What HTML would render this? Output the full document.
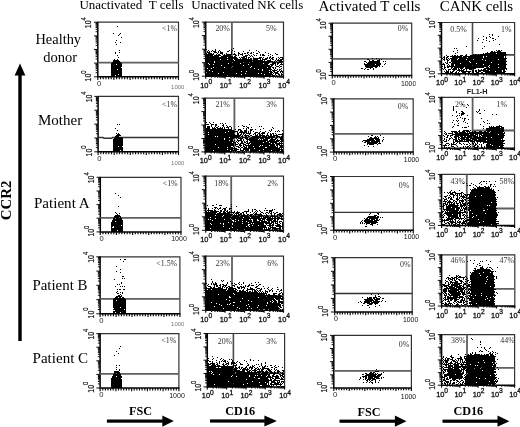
<!DOCTYPE html>
<html><head><meta charset="utf-8"><style>
html,body{margin:0;padding:0;background:#fff;}
svg{display:block;font-family:"Liberation Serif",serif;}
</style></head><body>
<svg width="520" height="427" viewBox="0 0 520 427">
<defs><filter id="b" x="0" y="0" width="1" height="1"><feGaussianBlur stdDeviation="0.33"/></filter></defs>
<rect width="520" height="427" fill="#fff"/>
<g filter="url(#b)">
<rect width="520" height="427" fill="#fff"/>
<text x="79.4" y="9.0" font-size="13" text-anchor="start" fill="#000">Unactivated&#160;&#160;T cells</text><text x="191.3" y="9.0" font-size="13" text-anchor="start" fill="#000">Unactivated NK cells</text><text x="318.5" y="10.8" font-size="15" text-anchor="start" fill="#000">Activated T cells</text><text x="439.7" y="11.1" font-size="14.95" text-anchor="start" fill="#000">CANK cells</text><text x="58.25" y="44.4" font-size="14.4" text-anchor="middle" fill="#000">Healthy</text><text x="60.2" y="62.3" font-size="14.5" text-anchor="middle" fill="#000">donor</text><text x="60.1" y="125.3" font-size="15.0" text-anchor="middle" fill="#000">Mother</text><text x="61.8" y="208.1" font-size="15.1" text-anchor="middle" fill="#000">Patient A</text><text x="59.95" y="289.5" font-size="14.9" text-anchor="middle" fill="#000">Patient B</text><text x="60.35" y="363.0" font-size="15.05" text-anchor="middle" fill="#000">Patient C</text><text x="10.7" y="200.35" font-size="14.9" text-anchor="middle" font-weight="bold" fill="#000" transform="rotate(-90 10.7 200.35)">CCR2</text><rect x="18.3" y="74" width="3.4" height="267" fill="#000"/><polygon points="20,63.5 14.6,75.5 25.4,75.5" fill="#000"/><rect x="106.9" y="419.5" width="55.900000000000006" height="3.2" fill="#000"/><polygon points="162.3,415.5 173.8,421.1 162.3,426.70000000000005" fill="#000"/><rect x="210.0" y="419.4" width="54.89999999999998" height="3.2" fill="#000"/><polygon points="264.4,415.4 276.9,421.0 264.4,426.6" fill="#000"/><rect x="339.5" y="419.59999999999997" width="55.89999999999998" height="3.2" fill="#000"/><polygon points="394.9,415.59999999999997 406.5,421.2 394.9,426.8" fill="#000"/><rect x="442.5" y="419.59999999999997" width="55.5" height="3.2" fill="#000"/><polygon points="497.5,415.59999999999997 509.3,421.2 497.5,426.8" fill="#000"/><text x="140.5" y="415.4" font-size="12.2" text-anchor="middle" font-weight="bold" fill="#000">FSC</text><text x="240.2" y="415.3" font-size="12.2" text-anchor="middle" font-weight="bold" fill="#000">CD16</text><text x="369.1" y="415.6" font-size="12.2" text-anchor="middle" font-weight="bold" fill="#000">FSC</text><text x="468.3" y="415.2" font-size="12.2" text-anchor="middle" font-weight="bold" fill="#000">CD16</text><text x="477.15" y="93.5" font-size="7.3" text-anchor="middle" font-weight="bold" fill="#222" font-family="Liberation Sans">FL1-H</text><path d="M97.8 22.2H178.5V76.8" fill="none" stroke="#333" stroke-width="1.2"/><path d="M97.8 21.7V76.8H179.0" fill="none" stroke="#000" stroke-width="1.5"/><path d="M94.0 76.8h3.8M95.6 72.7h2.2M95.6 70.3h2.2M95.6 68.6h2.2M95.6 67.3h2.2M95.6 66.2h2.2M95.6 65.3h2.2M95.6 64.5h2.2M95.6 63.8h2.2M94.0 63.1h3.8M95.6 59.0h2.2M95.6 56.6h2.2M95.6 54.9h2.2M95.6 53.6h2.2M95.6 52.5h2.2M95.6 51.6h2.2M95.6 50.8h2.2M95.6 50.1h2.2M94.0 49.5h3.8M95.6 45.4h2.2M95.6 43.0h2.2M95.6 41.3h2.2M95.6 40.0h2.2M95.6 38.9h2.2M95.6 38.0h2.2M95.6 37.2h2.2M95.6 36.5h2.2M94.0 35.9h3.8M95.6 31.7h2.2M95.6 29.3h2.2M95.6 27.6h2.2M95.6 26.3h2.2M95.6 25.2h2.2M95.6 24.3h2.2M95.6 23.5h2.2M95.6 22.8h2.2M94.0 22.2h3.8" stroke="#111" stroke-width="1"/><path d="M97.8 76.8v3.2M100.5 76.8v2.4M103.2 76.8v2.4M105.9 76.8v2.4M108.6 76.8v2.4M111.2 76.8v2.4M113.9 76.8v3.2M116.6 76.8v2.4M119.3 76.8v2.4M122.0 76.8v2.4M124.7 76.8v2.4M127.4 76.8v2.4M130.1 76.8v3.2M132.8 76.8v2.4M135.5 76.8v2.4M138.2 76.8v2.4M140.8 76.8v2.4M143.5 76.8v2.4M146.2 76.8v3.2M148.9 76.8v2.4M151.6 76.8v2.4M154.3 76.8v2.4M157.0 76.8v2.4M159.7 76.8v2.4M162.4 76.8v3.2M165.1 76.8v2.4M167.7 76.8v2.4M170.4 76.8v2.4M173.1 76.8v2.4M175.8 76.8v2.4M178.5 76.8v3.2" stroke="#111" stroke-width="1.2"/><text transform="translate(91.39999999999999 22.7) rotate(-90) scale(0.8 1)" font-family="Liberation Sans" font-size="8.6" text-anchor="middle" fill="#111" stroke="#111" stroke-width="0.2">10<tspan dy="-5.33" font-size="7.31">4</tspan></text><text transform="translate(91.39999999999999 76.0) rotate(-90) scale(0.8 1)" font-family="Liberation Sans" font-size="8.6" text-anchor="middle" fill="#111" stroke="#111" stroke-width="0.2">10<tspan dy="-5.33" font-size="7.31">0</tspan></text><text x="99.0" y="86.1" font-size="7.6" text-anchor="middle" fill="#222" font-family="Liberation Sans">0</text><text x="177.75" y="89.0" font-size="6.0" text-anchor="middle" fill="#777" font-family="Liberation Sans">1000</text><line x1="97.8" y1="62.7" x2="178.5" y2="62.7" stroke="#5e5e5e" stroke-width="1.8"/><text x="162.0" y="31.0" font-size="7.9" text-anchor="start" fill="#333">&lt;1%</text><path d="M98.1 96.4H178.5V151.8" fill="none" stroke="#333" stroke-width="1.2"/><path d="M98.1 95.9V151.8H179.0" fill="none" stroke="#000" stroke-width="1.5"/><path d="M94.3 151.8h3.8M95.9 147.6h2.2M95.9 145.2h2.2M95.9 143.5h2.2M95.9 142.1h2.2M95.9 141.0h2.2M95.9 140.1h2.2M95.9 139.3h2.2M95.9 138.6h2.2M94.3 138.0h3.8M95.9 133.8h2.2M95.9 131.3h2.2M95.9 129.6h2.2M95.9 128.3h2.2M95.9 127.2h2.2M95.9 126.2h2.2M95.9 125.4h2.2M95.9 124.7h2.2M94.3 124.1h3.8M95.9 119.9h2.2M95.9 117.5h2.2M95.9 115.8h2.2M95.9 114.4h2.2M95.9 113.3h2.2M95.9 112.4h2.2M95.9 111.6h2.2M95.9 110.9h2.2M94.3 110.2h3.8M95.9 106.1h2.2M95.9 103.6h2.2M95.9 101.9h2.2M95.9 100.6h2.2M95.9 99.5h2.2M95.9 98.5h2.2M95.9 97.7h2.2M95.9 97.0h2.2M94.3 96.4h3.8" stroke="#111" stroke-width="1"/><path d="M98.1 151.8v3.2M100.8 151.8v2.4M103.5 151.8v2.4M106.1 151.8v2.4M108.8 151.8v2.4M111.5 151.8v2.4M114.2 151.8v3.2M116.9 151.8v2.4M119.5 151.8v2.4M122.2 151.8v2.4M124.9 151.8v2.4M127.6 151.8v2.4M130.3 151.8v3.2M132.9 151.8v2.4M135.6 151.8v2.4M138.3 151.8v2.4M141.0 151.8v2.4M143.7 151.8v2.4M146.3 151.8v3.2M149.0 151.8v2.4M151.7 151.8v2.4M154.4 151.8v2.4M157.1 151.8v2.4M159.7 151.8v2.4M162.4 151.8v3.2M165.1 151.8v2.4M167.8 151.8v2.4M170.5 151.8v2.4M173.1 151.8v2.4M175.8 151.8v2.4M178.5 151.8v3.2" stroke="#111" stroke-width="1.2"/><text transform="translate(91.69999999999999 96.9) rotate(-90) scale(0.8 1)" font-family="Liberation Sans" font-size="8.6" text-anchor="middle" fill="#111" stroke="#111" stroke-width="0.2">10<tspan dy="-5.33" font-size="7.31">4</tspan></text><text transform="translate(91.69999999999999 151.0) rotate(-90) scale(0.8 1)" font-family="Liberation Sans" font-size="8.6" text-anchor="middle" fill="#111" stroke="#111" stroke-width="0.2">10<tspan dy="-5.33" font-size="7.31">0</tspan></text><text x="99.3" y="161.10000000000002" font-size="7.6" text-anchor="middle" fill="#222" font-family="Liberation Sans">0</text><text x="177.75" y="165.0" font-size="6.0" text-anchor="middle" fill="#777" font-family="Liberation Sans">1000</text><path d="M98.1 137.4H103L104 138.3H111.5L112.5 137.6H178.5" fill="none" stroke="#333" stroke-width="1.5"/><text x="162.1" y="106.7" font-size="7.9" text-anchor="start" fill="#333">&lt;1%</text><path d="M100.3 177.3H181.0V231.9" fill="none" stroke="#333" stroke-width="1.2"/><path d="M100.3 176.8V231.9H181.5" fill="none" stroke="#000" stroke-width="1.5"/><path d="M96.5 231.9h3.8M98.1 227.8h2.2M98.1 225.4h2.2M98.1 223.7h2.2M98.1 222.4h2.2M98.1 221.3h2.2M98.1 220.4h2.2M98.1 219.6h2.2M98.1 218.9h2.2M96.5 218.2h3.8M98.1 214.1h2.2M98.1 211.7h2.2M98.1 210.0h2.2M98.1 208.7h2.2M98.1 207.6h2.2M98.1 206.7h2.2M98.1 205.9h2.2M98.1 205.2h2.2M96.5 204.6h3.8M98.1 200.5h2.2M98.1 198.1h2.2M98.1 196.4h2.2M98.1 195.1h2.2M98.1 194.0h2.2M98.1 193.1h2.2M98.1 192.3h2.2M98.1 191.6h2.2M96.5 191.0h3.8M98.1 186.8h2.2M98.1 184.4h2.2M98.1 182.7h2.2M98.1 181.4h2.2M98.1 180.3h2.2M98.1 179.4h2.2M98.1 178.6h2.2M98.1 177.9h2.2M96.5 177.3h3.8" stroke="#111" stroke-width="1"/><path d="M100.3 231.9v3.2M103.0 231.9v2.4M105.7 231.9v2.4M108.4 231.9v2.4M111.1 231.9v2.4M113.8 231.9v2.4M116.4 231.9v3.2M119.1 231.9v2.4M121.8 231.9v2.4M124.5 231.9v2.4M127.2 231.9v2.4M129.9 231.9v2.4M132.6 231.9v3.2M135.3 231.9v2.4M138.0 231.9v2.4M140.7 231.9v2.4M143.3 231.9v2.4M146.0 231.9v2.4M148.7 231.9v3.2M151.4 231.9v2.4M154.1 231.9v2.4M156.8 231.9v2.4M159.5 231.9v2.4M162.2 231.9v2.4M164.9 231.9v3.2M167.6 231.9v2.4M170.2 231.9v2.4M172.9 231.9v2.4M175.6 231.9v2.4M178.3 231.9v2.4M181.0 231.9v3.2" stroke="#111" stroke-width="1.2"/><text transform="translate(93.89999999999999 177.8) rotate(-90) scale(0.8 1)" font-family="Liberation Sans" font-size="8.6" text-anchor="middle" fill="#111" stroke="#111" stroke-width="0.2">10<tspan dy="-5.33" font-size="7.31">4</tspan></text><text transform="translate(93.89999999999999 231.1) rotate(-90) scale(0.8 1)" font-family="Liberation Sans" font-size="8.6" text-anchor="middle" fill="#111" stroke="#111" stroke-width="0.2">10<tspan dy="-5.33" font-size="7.31">0</tspan></text><text x="101.5" y="241.20000000000002" font-size="7.6" text-anchor="middle" fill="#222" font-family="Liberation Sans">0</text><text x="179.0" y="241.3" font-size="7.0" text-anchor="middle" fill="#111" font-family="Liberation Sans">1000</text><line x1="100.3" y1="217.9" x2="181.0" y2="217.9" stroke="#5e5e5e" stroke-width="1.8"/><text x="162.7" y="186.0" font-size="7.9" text-anchor="start" fill="#333">&lt;1%</text><path d="M100.1 256.8H179.9V313.8" fill="none" stroke="#333" stroke-width="1.2"/><path d="M100.1 256.3V313.8H180.4" fill="none" stroke="#000" stroke-width="1.5"/><path d="M96.3 313.8h3.8M97.9 309.5h2.2M97.9 307.0h2.2M97.9 305.2h2.2M97.9 303.8h2.2M97.9 302.7h2.2M97.9 301.8h2.2M97.9 300.9h2.2M97.9 300.2h2.2M96.3 299.6h3.8M97.9 295.3h2.2M97.9 292.8h2.2M97.9 291.0h2.2M97.9 289.6h2.2M97.9 288.5h2.2M97.9 287.5h2.2M97.9 286.7h2.2M97.9 286.0h2.2M96.3 285.3h3.8M97.9 281.0h2.2M97.9 278.5h2.2M97.9 276.7h2.2M97.9 275.3h2.2M97.9 274.2h2.2M97.9 273.3h2.2M97.9 272.4h2.2M97.9 271.7h2.2M96.3 271.1h3.8M97.9 266.8h2.2M97.9 264.3h2.2M97.9 262.5h2.2M97.9 261.1h2.2M97.9 260.0h2.2M97.9 259.0h2.2M97.9 258.2h2.2M97.9 257.5h2.2M96.3 256.8h3.8" stroke="#111" stroke-width="1"/><path d="M100.1 313.8v3.2M102.8 313.8v2.4M105.4 313.8v2.4M108.1 313.8v2.4M110.7 313.8v2.4M113.4 313.8v2.4M116.1 313.8v3.2M118.7 313.8v2.4M121.4 313.8v2.4M124.0 313.8v2.4M126.7 313.8v2.4M129.4 313.8v2.4M132.0 313.8v3.2M134.7 313.8v2.4M137.3 313.8v2.4M140.0 313.8v2.4M142.7 313.8v2.4M145.3 313.8v2.4M148.0 313.8v3.2M150.6 313.8v2.4M153.3 313.8v2.4M156.0 313.8v2.4M158.6 313.8v2.4M161.3 313.8v2.4M163.9 313.8v3.2M166.6 313.8v2.4M169.3 313.8v2.4M171.9 313.8v2.4M174.6 313.8v2.4M177.2 313.8v2.4M179.9 313.8v3.2" stroke="#111" stroke-width="1.2"/><text transform="translate(93.69999999999999 257.3) rotate(-90) scale(0.8 1)" font-family="Liberation Sans" font-size="8.6" text-anchor="middle" fill="#111" stroke="#111" stroke-width="0.2">10<tspan dy="-5.33" font-size="7.31">4</tspan></text><text transform="translate(93.69999999999999 313.0) rotate(-90) scale(0.8 1)" font-family="Liberation Sans" font-size="8.6" text-anchor="middle" fill="#111" stroke="#111" stroke-width="0.2">10<tspan dy="-5.33" font-size="7.31">0</tspan></text><text x="101.3" y="323.1" font-size="7.6" text-anchor="middle" fill="#222" font-family="Liberation Sans">0</text><text x="177.75" y="326.0" font-size="6.0" text-anchor="middle" fill="#777" font-family="Liberation Sans">1000</text><line x1="100.1" y1="298.9" x2="179.9" y2="298.9" stroke="#5e5e5e" stroke-width="1.8"/><text x="156.3" y="266.0" font-size="7.9" text-anchor="start" fill="#333">&lt;1.5%</text><path d="M100.1 333.6H178.9V388.0" fill="none" stroke="#333" stroke-width="1.2"/><path d="M100.1 333.1V388.0H179.4" fill="none" stroke="#000" stroke-width="1.5"/><path d="M96.3 388.0h3.8M97.9 383.9h2.2M97.9 381.5h2.2M97.9 379.8h2.2M97.9 378.5h2.2M97.9 377.4h2.2M97.9 376.5h2.2M97.9 375.7h2.2M97.9 375.0h2.2M96.3 374.4h3.8M97.9 370.3h2.2M97.9 367.9h2.2M97.9 366.2h2.2M97.9 364.9h2.2M97.9 363.8h2.2M97.9 362.9h2.2M97.9 362.1h2.2M97.9 361.4h2.2M96.3 360.8h3.8M97.9 356.7h2.2M97.9 354.3h2.2M97.9 352.6h2.2M97.9 351.3h2.2M97.9 350.2h2.2M97.9 349.3h2.2M97.9 348.5h2.2M97.9 347.8h2.2M96.3 347.2h3.8M97.9 343.1h2.2M97.9 340.7h2.2M97.9 339.0h2.2M97.9 337.7h2.2M97.9 336.6h2.2M97.9 335.7h2.2M97.9 334.9h2.2M97.9 334.2h2.2M96.3 333.6h3.8" stroke="#111" stroke-width="1"/><path d="M100.1 388.0v3.2M102.7 388.0v2.4M105.4 388.0v2.4M108.0 388.0v2.4M110.6 388.0v2.4M113.2 388.0v2.4M115.9 388.0v3.2M118.5 388.0v2.4M121.1 388.0v2.4M123.7 388.0v2.4M126.4 388.0v2.4M129.0 388.0v2.4M131.6 388.0v3.2M134.2 388.0v2.4M136.9 388.0v2.4M139.5 388.0v2.4M142.1 388.0v2.4M144.8 388.0v2.4M147.4 388.0v3.2M150.0 388.0v2.4M152.6 388.0v2.4M155.3 388.0v2.4M157.9 388.0v2.4M160.5 388.0v2.4M163.1 388.0v3.2M165.8 388.0v2.4M168.4 388.0v2.4M171.0 388.0v2.4M173.6 388.0v2.4M176.3 388.0v2.4M178.9 388.0v3.2" stroke="#111" stroke-width="1.2"/><text transform="translate(93.69999999999999 334.1) rotate(-90) scale(0.8 1)" font-family="Liberation Sans" font-size="8.6" text-anchor="middle" fill="#111" stroke="#111" stroke-width="0.2">10<tspan dy="-5.33" font-size="7.31">4</tspan></text><text transform="translate(93.69999999999999 387.2) rotate(-90) scale(0.8 1)" font-family="Liberation Sans" font-size="8.6" text-anchor="middle" fill="#111" stroke="#111" stroke-width="0.2">10<tspan dy="-5.33" font-size="7.31">0</tspan></text><text x="101.3" y="397.3" font-size="7.6" text-anchor="middle" fill="#222" font-family="Liberation Sans">0</text><text x="177.0" y="398.2" font-size="7.0" text-anchor="middle" fill="#111" font-family="Liberation Sans">1000</text><line x1="100.1" y1="373.9" x2="178.9" y2="373.9" stroke="#5e5e5e" stroke-width="1.8"/><text x="161.3" y="342.5" font-size="7.9" text-anchor="start" fill="#333">&lt;1%</text><path d="M205.7 22.1H283.5V76.2" fill="none" stroke="#333" stroke-width="1.2"/><path d="M205.7 21.6V76.2H284.0" fill="none" stroke="#000" stroke-width="1.5"/><path d="M201.9 76.2h3.8M203.5 72.1h2.2M203.5 69.7h2.2M203.5 68.1h2.2M203.5 66.7h2.2M203.5 65.7h2.2M203.5 64.8h2.2M203.5 64.0h2.2M203.5 63.3h2.2M201.9 62.7h3.8M203.5 58.6h2.2M203.5 56.2h2.2M203.5 54.5h2.2M203.5 53.2h2.2M203.5 52.2h2.2M203.5 51.2h2.2M203.5 50.5h2.2M203.5 49.8h2.2M201.9 49.2h3.8M203.5 45.1h2.2M203.5 42.7h2.2M203.5 41.0h2.2M203.5 39.7h2.2M203.5 38.6h2.2M203.5 37.7h2.2M203.5 36.9h2.2M203.5 36.2h2.2M201.9 35.6h3.8M203.5 31.6h2.2M203.5 29.2h2.2M203.5 27.5h2.2M203.5 26.2h2.2M203.5 25.1h2.2M203.5 24.2h2.2M203.5 23.4h2.2M203.5 22.7h2.2M201.9 22.1h3.8" stroke="#111" stroke-width="1"/><path d="M205.7 76.2v2.5M211.6 76.2v1.6M215.0 76.2v1.6M217.4 76.2v1.6M219.3 76.2v1.6M220.8 76.2v1.6M222.1 76.2v1.6M223.3 76.2v1.6M224.3 76.2v1.6M225.1 76.2v2.5M231.0 76.2v1.6M234.4 76.2v1.6M236.9 76.2v1.6M238.7 76.2v1.6M240.3 76.2v1.6M241.6 76.2v1.6M242.7 76.2v1.6M243.7 76.2v1.6M244.6 76.2v2.5M250.5 76.2v1.6M253.9 76.2v1.6M256.3 76.2v1.6M258.2 76.2v1.6M259.7 76.2v1.6M261.0 76.2v1.6M262.2 76.2v1.6M263.2 76.2v1.6M264.1 76.2v2.5M269.9 76.2v1.6M273.3 76.2v1.6M275.8 76.2v1.6M277.6 76.2v1.6M279.2 76.2v1.6M280.5 76.2v1.6M281.6 76.2v1.6M282.6 76.2v1.6M283.5 76.2v2.5" stroke="#111" stroke-width="1.2"/><text transform="translate(199.29999999999998 22.6) rotate(-90) scale(0.8 1)" font-family="Liberation Sans" font-size="8.6" text-anchor="middle" fill="#111" stroke="#111" stroke-width="0.2">10<tspan dy="-5.33" font-size="7.31">4</tspan></text><text transform="translate(199.29999999999998 75.4) rotate(-90) scale(0.8 1)" font-family="Liberation Sans" font-size="8.6" text-anchor="middle" fill="#111" stroke="#111" stroke-width="0.2">10<tspan dy="-5.33" font-size="7.31">0</tspan></text><text x="206.20" y="87.7" font-family="Liberation Sans" font-size="7.4" text-anchor="middle" fill="#111" stroke="#111" stroke-width="0.3">10<tspan dy="-3.70" font-size="6.66">0</tspan></text><text x="225.65" y="87.7" font-family="Liberation Sans" font-size="7.4" text-anchor="middle" fill="#111" stroke="#111" stroke-width="0.3">10<tspan dy="-3.70" font-size="6.66">1</tspan></text><text x="245.10" y="87.7" font-family="Liberation Sans" font-size="7.4" text-anchor="middle" fill="#111" stroke="#111" stroke-width="0.3">10<tspan dy="-3.70" font-size="6.66">2</tspan></text><text x="264.55" y="87.7" font-family="Liberation Sans" font-size="7.4" text-anchor="middle" fill="#111" stroke="#111" stroke-width="0.3">10<tspan dy="-3.70" font-size="6.66">3</tspan></text><text x="284.00" y="87.7" font-family="Liberation Sans" font-size="7.4" text-anchor="middle" fill="#111" stroke="#111" stroke-width="0.3">10<tspan dy="-3.70" font-size="6.66">4</tspan></text><line x1="231.9" y1="22.1" x2="231.9" y2="76.2" stroke="#5e5e5e" stroke-width="1.8"/><line x1="231.9" y1="62.2" x2="283.5" y2="62.2" stroke="#5e5e5e" stroke-width="1.8"/><text x="215.4" y="31.2" font-size="7.9" text-anchor="start" fill="#333">20%</text><text x="266.0" y="31.2" font-size="7.9" text-anchor="start" fill="#333">5%</text><path d="M205.2 98.2H283.5V151.9" fill="none" stroke="#333" stroke-width="1.2"/><path d="M205.2 97.7V151.9H284.0" fill="none" stroke="#000" stroke-width="1.5"/><path d="M201.4 151.9h3.8M203.0 147.9h2.2M203.0 145.5h2.2M203.0 143.8h2.2M203.0 142.5h2.2M203.0 141.5h2.2M203.0 140.6h2.2M203.0 139.8h2.2M203.0 139.1h2.2M201.4 138.5h3.8M203.0 134.4h2.2M203.0 132.1h2.2M203.0 130.4h2.2M203.0 129.1h2.2M203.0 128.0h2.2M203.0 127.1h2.2M203.0 126.4h2.2M203.0 125.7h2.2M201.4 125.1h3.8M203.0 121.0h2.2M203.0 118.6h2.2M203.0 117.0h2.2M203.0 115.7h2.2M203.0 114.6h2.2M203.0 113.7h2.2M203.0 112.9h2.2M203.0 112.2h2.2M201.4 111.6h3.8M203.0 107.6h2.2M203.0 105.2h2.2M203.0 103.5h2.2M203.0 102.2h2.2M203.0 101.2h2.2M203.0 100.3h2.2M203.0 99.5h2.2M203.0 98.8h2.2M201.4 98.2h3.8" stroke="#111" stroke-width="1"/><path d="M205.2 151.9v2.5M211.1 151.9v1.6M214.5 151.9v1.6M217.0 151.9v1.6M218.9 151.9v1.6M220.4 151.9v1.6M221.7 151.9v1.6M222.9 151.9v1.6M223.9 151.9v1.6M224.8 151.9v2.5M230.7 151.9v1.6M234.1 151.9v1.6M236.6 151.9v1.6M238.5 151.9v1.6M240.0 151.9v1.6M241.3 151.9v1.6M242.5 151.9v1.6M243.5 151.9v1.6M244.3 151.9v2.5M250.2 151.9v1.6M253.7 151.9v1.6M256.1 151.9v1.6M258.0 151.9v1.6M259.6 151.9v1.6M260.9 151.9v1.6M262.0 151.9v1.6M263.0 151.9v1.6M263.9 151.9v2.5M269.8 151.9v1.6M273.3 151.9v1.6M275.7 151.9v1.6M277.6 151.9v1.6M279.2 151.9v1.6M280.5 151.9v1.6M281.6 151.9v1.6M282.6 151.9v1.6M283.5 151.9v2.5" stroke="#111" stroke-width="1.2"/><text transform="translate(198.79999999999998 98.7) rotate(-90) scale(0.8 1)" font-family="Liberation Sans" font-size="8.6" text-anchor="middle" fill="#111" stroke="#111" stroke-width="0.2">10<tspan dy="-5.33" font-size="7.31">4</tspan></text><text transform="translate(198.79999999999998 151.1) rotate(-90) scale(0.8 1)" font-family="Liberation Sans" font-size="8.6" text-anchor="middle" fill="#111" stroke="#111" stroke-width="0.2">10<tspan dy="-5.33" font-size="7.31">0</tspan></text><text x="205.70" y="163.4" font-family="Liberation Sans" font-size="7.4" text-anchor="middle" fill="#111" stroke="#111" stroke-width="0.3">10<tspan dy="-3.70" font-size="6.66">0</tspan></text><text x="225.27" y="163.4" font-family="Liberation Sans" font-size="7.4" text-anchor="middle" fill="#111" stroke="#111" stroke-width="0.3">10<tspan dy="-3.70" font-size="6.66">1</tspan></text><text x="244.85" y="163.4" font-family="Liberation Sans" font-size="7.4" text-anchor="middle" fill="#111" stroke="#111" stroke-width="0.3">10<tspan dy="-3.70" font-size="6.66">2</tspan></text><text x="264.43" y="163.4" font-family="Liberation Sans" font-size="7.4" text-anchor="middle" fill="#111" stroke="#111" stroke-width="0.3">10<tspan dy="-3.70" font-size="6.66">3</tspan></text><text x="284.00" y="163.4" font-family="Liberation Sans" font-size="7.4" text-anchor="middle" fill="#111" stroke="#111" stroke-width="0.3">10<tspan dy="-3.70" font-size="6.66">4</tspan></text><line x1="234.4" y1="98.2" x2="234.4" y2="151.9" stroke="#5e5e5e" stroke-width="1.8"/><line x1="234.4" y1="137.3" x2="283.5" y2="137.3" stroke="#5e5e5e" stroke-width="1.8"/><text x="215.4" y="107.0" font-size="7.9" text-anchor="start" fill="#333">21%</text><text x="266.2" y="107.0" font-size="7.9" text-anchor="start" fill="#333">3%</text><path d="M205.7 176.1H283.5V230.3" fill="none" stroke="#333" stroke-width="1.2"/><path d="M205.7 175.6V230.3H284.0" fill="none" stroke="#000" stroke-width="1.5"/><path d="M201.9 230.3h3.8M203.5 226.2h2.2M203.5 223.8h2.2M203.5 222.1h2.2M203.5 220.8h2.2M203.5 219.8h2.2M203.5 218.8h2.2M203.5 218.1h2.2M203.5 217.4h2.2M201.9 216.8h3.8M203.5 212.7h2.2M203.5 210.3h2.2M203.5 208.6h2.2M203.5 207.3h2.2M203.5 206.2h2.2M203.5 205.3h2.2M203.5 204.5h2.2M203.5 203.8h2.2M201.9 203.2h3.8M203.5 199.1h2.2M203.5 196.7h2.2M203.5 195.0h2.2M203.5 193.7h2.2M203.5 192.7h2.2M203.5 191.7h2.2M203.5 191.0h2.2M203.5 190.3h2.2M201.9 189.7h3.8M203.5 185.6h2.2M203.5 183.2h2.2M203.5 181.5h2.2M203.5 180.2h2.2M203.5 179.1h2.2M203.5 178.2h2.2M203.5 177.4h2.2M203.5 176.7h2.2M201.9 176.1h3.8" stroke="#111" stroke-width="1"/><path d="M205.7 230.3v2.5M211.6 230.3v1.6M215.0 230.3v1.6M217.4 230.3v1.6M219.3 230.3v1.6M220.8 230.3v1.6M222.1 230.3v1.6M223.3 230.3v1.6M224.3 230.3v1.6M225.1 230.3v2.5M231.0 230.3v1.6M234.4 230.3v1.6M236.9 230.3v1.6M238.7 230.3v1.6M240.3 230.3v1.6M241.6 230.3v1.6M242.7 230.3v1.6M243.7 230.3v1.6M244.6 230.3v2.5M250.5 230.3v1.6M253.9 230.3v1.6M256.3 230.3v1.6M258.2 230.3v1.6M259.7 230.3v1.6M261.0 230.3v1.6M262.2 230.3v1.6M263.2 230.3v1.6M264.1 230.3v2.5M269.9 230.3v1.6M273.3 230.3v1.6M275.8 230.3v1.6M277.6 230.3v1.6M279.2 230.3v1.6M280.5 230.3v1.6M281.6 230.3v1.6M282.6 230.3v1.6M283.5 230.3v2.5" stroke="#111" stroke-width="1.2"/><text transform="translate(199.29999999999998 176.6) rotate(-90) scale(0.8 1)" font-family="Liberation Sans" font-size="8.6" text-anchor="middle" fill="#111" stroke="#111" stroke-width="0.2">10<tspan dy="-5.33" font-size="7.31">4</tspan></text><text transform="translate(199.29999999999998 229.5) rotate(-90) scale(0.8 1)" font-family="Liberation Sans" font-size="8.6" text-anchor="middle" fill="#111" stroke="#111" stroke-width="0.2">10<tspan dy="-5.33" font-size="7.31">0</tspan></text><text x="206.20" y="241.8" font-family="Liberation Sans" font-size="7.4" text-anchor="middle" fill="#111" stroke="#111" stroke-width="0.3">10<tspan dy="-3.70" font-size="6.66">0</tspan></text><text x="225.65" y="241.8" font-family="Liberation Sans" font-size="7.4" text-anchor="middle" fill="#111" stroke="#111" stroke-width="0.3">10<tspan dy="-3.70" font-size="6.66">1</tspan></text><text x="245.10" y="241.8" font-family="Liberation Sans" font-size="7.4" text-anchor="middle" fill="#111" stroke="#111" stroke-width="0.3">10<tspan dy="-3.70" font-size="6.66">2</tspan></text><text x="264.55" y="241.8" font-family="Liberation Sans" font-size="7.4" text-anchor="middle" fill="#111" stroke="#111" stroke-width="0.3">10<tspan dy="-3.70" font-size="6.66">3</tspan></text><text x="284.00" y="241.8" font-family="Liberation Sans" font-size="7.4" text-anchor="middle" fill="#111" stroke="#111" stroke-width="0.3">10<tspan dy="-3.70" font-size="6.66">4</tspan></text><line x1="231.2" y1="176.1" x2="231.2" y2="230.3" stroke="#5e5e5e" stroke-width="1.8"/><line x1="231.2" y1="216.0" x2="283.5" y2="216.0" stroke="#5e5e5e" stroke-width="1.8"/><text x="214.2" y="186.2" font-size="7.9" text-anchor="start" fill="#333">18%</text><text x="267.3" y="186.2" font-size="7.9" text-anchor="start" fill="#333">2%</text><path d="M205.7 256.1H283.5V310.3" fill="none" stroke="#333" stroke-width="1.2"/><path d="M205.7 255.60000000000002V310.3H284.0" fill="none" stroke="#000" stroke-width="1.5"/><path d="M201.9 310.3h3.8M203.5 306.2h2.2M203.5 303.8h2.2M203.5 302.1h2.2M203.5 300.8h2.2M203.5 299.8h2.2M203.5 298.8h2.2M203.5 298.1h2.2M203.5 297.4h2.2M201.9 296.8h3.8M203.5 292.7h2.2M203.5 290.3h2.2M203.5 288.6h2.2M203.5 287.3h2.2M203.5 286.2h2.2M203.5 285.3h2.2M203.5 284.5h2.2M203.5 283.8h2.2M201.9 283.2h3.8M203.5 279.1h2.2M203.5 276.7h2.2M203.5 275.0h2.2M203.5 273.7h2.2M203.5 272.7h2.2M203.5 271.7h2.2M203.5 271.0h2.2M203.5 270.3h2.2M201.9 269.7h3.8M203.5 265.6h2.2M203.5 263.2h2.2M203.5 261.5h2.2M203.5 260.2h2.2M203.5 259.1h2.2M203.5 258.2h2.2M203.5 257.4h2.2M203.5 256.7h2.2M201.9 256.1h3.8" stroke="#111" stroke-width="1"/><path d="M205.7 310.3v2.5M211.6 310.3v1.6M215.0 310.3v1.6M217.4 310.3v1.6M219.3 310.3v1.6M220.8 310.3v1.6M222.1 310.3v1.6M223.3 310.3v1.6M224.3 310.3v1.6M225.1 310.3v2.5M231.0 310.3v1.6M234.4 310.3v1.6M236.9 310.3v1.6M238.7 310.3v1.6M240.3 310.3v1.6M241.6 310.3v1.6M242.7 310.3v1.6M243.7 310.3v1.6M244.6 310.3v2.5M250.5 310.3v1.6M253.9 310.3v1.6M256.3 310.3v1.6M258.2 310.3v1.6M259.7 310.3v1.6M261.0 310.3v1.6M262.2 310.3v1.6M263.2 310.3v1.6M264.1 310.3v2.5M269.9 310.3v1.6M273.3 310.3v1.6M275.8 310.3v1.6M277.6 310.3v1.6M279.2 310.3v1.6M280.5 310.3v1.6M281.6 310.3v1.6M282.6 310.3v1.6M283.5 310.3v2.5" stroke="#111" stroke-width="1.2"/><text transform="translate(199.29999999999998 256.6) rotate(-90) scale(0.8 1)" font-family="Liberation Sans" font-size="8.6" text-anchor="middle" fill="#111" stroke="#111" stroke-width="0.2">10<tspan dy="-5.33" font-size="7.31">4</tspan></text><text transform="translate(199.29999999999998 309.5) rotate(-90) scale(0.8 1)" font-family="Liberation Sans" font-size="8.6" text-anchor="middle" fill="#111" stroke="#111" stroke-width="0.2">10<tspan dy="-5.33" font-size="7.31">0</tspan></text><text x="206.20" y="321.8" font-family="Liberation Sans" font-size="7.4" text-anchor="middle" fill="#111" stroke="#111" stroke-width="0.3">10<tspan dy="-3.70" font-size="6.66">0</tspan></text><text x="225.65" y="321.8" font-family="Liberation Sans" font-size="7.4" text-anchor="middle" fill="#111" stroke="#111" stroke-width="0.3">10<tspan dy="-3.70" font-size="6.66">1</tspan></text><text x="245.10" y="321.8" font-family="Liberation Sans" font-size="7.4" text-anchor="middle" fill="#111" stroke="#111" stroke-width="0.3">10<tspan dy="-3.70" font-size="6.66">2</tspan></text><text x="264.55" y="321.8" font-family="Liberation Sans" font-size="7.4" text-anchor="middle" fill="#111" stroke="#111" stroke-width="0.3">10<tspan dy="-3.70" font-size="6.66">3</tspan></text><text x="284.00" y="321.8" font-family="Liberation Sans" font-size="7.4" text-anchor="middle" fill="#111" stroke="#111" stroke-width="0.3">10<tspan dy="-3.70" font-size="6.66">4</tspan></text><line x1="232.0" y1="256.1" x2="232.0" y2="310.3" stroke="#5e5e5e" stroke-width="1.8"/><line x1="232.0" y1="296.0" x2="283.5" y2="296.0" stroke="#5e5e5e" stroke-width="1.8"/><text x="215.4" y="265.8" font-size="7.9" text-anchor="start" fill="#333">23%</text><text x="267.3" y="265.8" font-size="7.9" text-anchor="start" fill="#333">6%</text><path d="M207.3 333.5H284.6V386.9" fill="none" stroke="#333" stroke-width="1.2"/><path d="M207.3 333.0V386.9H285.1" fill="none" stroke="#000" stroke-width="1.5"/><path d="M203.5 386.9h3.8M205.1 382.9h2.2M205.1 380.5h2.2M205.1 378.9h2.2M205.1 377.6h2.2M205.1 376.5h2.2M205.1 375.6h2.2M205.1 374.8h2.2M205.1 374.2h2.2M203.5 373.5h3.8M205.1 369.5h2.2M205.1 367.2h2.2M205.1 365.5h2.2M205.1 364.2h2.2M205.1 363.2h2.2M205.1 362.3h2.2M205.1 361.5h2.2M205.1 360.8h2.2M203.5 360.2h3.8M205.1 356.2h2.2M205.1 353.8h2.2M205.1 352.2h2.2M205.1 350.9h2.2M205.1 349.8h2.2M205.1 348.9h2.2M205.1 348.1h2.2M205.1 347.5h2.2M203.5 346.9h3.8M205.1 342.8h2.2M205.1 340.5h2.2M205.1 338.8h2.2M205.1 337.5h2.2M205.1 336.5h2.2M205.1 335.6h2.2M205.1 334.8h2.2M205.1 334.1h2.2M203.5 333.5h3.8" stroke="#111" stroke-width="1"/><path d="M207.3 386.9v2.5M213.1 386.9v1.6M216.5 386.9v1.6M218.9 386.9v1.6M220.8 386.9v1.6M222.3 386.9v1.6M223.6 386.9v1.6M224.8 386.9v1.6M225.7 386.9v1.6M226.6 386.9v2.5M232.4 386.9v1.6M235.8 386.9v1.6M238.3 386.9v1.6M240.1 386.9v1.6M241.7 386.9v1.6M243.0 386.9v1.6M244.1 386.9v1.6M245.1 386.9v1.6M246.0 386.9v2.5M251.8 386.9v1.6M255.2 386.9v1.6M257.6 386.9v1.6M259.5 386.9v1.6M261.0 386.9v1.6M262.3 386.9v1.6M263.4 386.9v1.6M264.4 386.9v1.6M265.3 386.9v2.5M271.1 386.9v1.6M274.5 386.9v1.6M276.9 386.9v1.6M278.8 386.9v1.6M280.3 386.9v1.6M281.6 386.9v1.6M282.7 386.9v1.6M283.7 386.9v1.6M284.6 386.9v2.5" stroke="#111" stroke-width="1.2"/><text transform="translate(200.9 334.0) rotate(-90) scale(0.8 1)" font-family="Liberation Sans" font-size="8.6" text-anchor="middle" fill="#111" stroke="#111" stroke-width="0.2">10<tspan dy="-5.33" font-size="7.31">4</tspan></text><text transform="translate(200.9 386.09999999999997) rotate(-90) scale(0.8 1)" font-family="Liberation Sans" font-size="8.6" text-anchor="middle" fill="#111" stroke="#111" stroke-width="0.2">10<tspan dy="-5.33" font-size="7.31">0</tspan></text><text x="207.80" y="398.4" font-family="Liberation Sans" font-size="7.4" text-anchor="middle" fill="#111" stroke="#111" stroke-width="0.3">10<tspan dy="-3.70" font-size="6.66">0</tspan></text><text x="227.12" y="398.4" font-family="Liberation Sans" font-size="7.4" text-anchor="middle" fill="#111" stroke="#111" stroke-width="0.3">10<tspan dy="-3.70" font-size="6.66">1</tspan></text><text x="246.45" y="398.4" font-family="Liberation Sans" font-size="7.4" text-anchor="middle" fill="#111" stroke="#111" stroke-width="0.3">10<tspan dy="-3.70" font-size="6.66">2</tspan></text><text x="265.78" y="398.4" font-family="Liberation Sans" font-size="7.4" text-anchor="middle" fill="#111" stroke="#111" stroke-width="0.3">10<tspan dy="-3.70" font-size="6.66">3</tspan></text><text x="285.10" y="398.4" font-family="Liberation Sans" font-size="7.4" text-anchor="middle" fill="#111" stroke="#111" stroke-width="0.3">10<tspan dy="-3.70" font-size="6.66">4</tspan></text><line x1="233.4" y1="333.5" x2="233.4" y2="386.9" stroke="#4a4a4a" stroke-width="1.6"/><line x1="233.4" y1="373.0" x2="284.6" y2="373.0" stroke="#4a4a4a" stroke-width="1.6"/><text x="217.7" y="343.5" font-size="7.9" text-anchor="start" fill="#333">20%</text><text x="266.2" y="343.5" font-size="7.9" text-anchor="start" fill="#333">3%</text><path d="M332.3 23.2H411.7V75.4" fill="none" stroke="#333" stroke-width="1.2"/><path d="M332.3 22.7V75.4H412.2" fill="none" stroke="#000" stroke-width="1.5"/><path d="M328.5 75.4h3.8M330.1 71.5h2.2M330.1 69.2h2.2M330.1 67.5h2.2M330.1 66.3h2.2M330.1 65.2h2.2M330.1 64.4h2.2M330.1 63.6h2.2M330.1 62.9h2.2M328.5 62.4h3.8M330.1 58.4h2.2M330.1 56.1h2.2M330.1 54.5h2.2M330.1 53.2h2.2M330.1 52.2h2.2M330.1 51.3h2.2M330.1 50.6h2.2M330.1 49.9h2.2M328.5 49.3h3.8M330.1 45.4h2.2M330.1 43.1h2.2M330.1 41.4h2.2M330.1 40.2h2.2M330.1 39.1h2.2M330.1 38.3h2.2M330.1 37.5h2.2M330.1 36.8h2.2M328.5 36.2h3.8M330.1 32.3h2.2M330.1 30.0h2.2M330.1 28.4h2.2M330.1 27.1h2.2M330.1 26.1h2.2M330.1 25.2h2.2M330.1 24.5h2.2M330.1 23.8h2.2M328.5 23.2h3.8" stroke="#111" stroke-width="1"/><path d="M332.3 75.4v3.2M334.9 75.4v2.4M337.6 75.4v2.4M340.2 75.4v2.4M342.9 75.4v2.4M345.5 75.4v2.4M348.2 75.4v3.2M350.8 75.4v2.4M353.5 75.4v2.4M356.1 75.4v2.4M358.8 75.4v2.4M361.4 75.4v2.4M364.1 75.4v3.2M366.7 75.4v2.4M369.4 75.4v2.4M372.0 75.4v2.4M374.6 75.4v2.4M377.3 75.4v2.4M379.9 75.4v3.2M382.6 75.4v2.4M385.2 75.4v2.4M387.9 75.4v2.4M390.5 75.4v2.4M393.2 75.4v2.4M395.8 75.4v3.2M398.5 75.4v2.4M401.1 75.4v2.4M403.8 75.4v2.4M406.4 75.4v2.4M409.1 75.4v2.4M411.7 75.4v3.2" stroke="#111" stroke-width="1.2"/><text transform="translate(325.90000000000003 23.7) rotate(-90) scale(0.8 1)" font-family="Liberation Sans" font-size="8.6" text-anchor="middle" fill="#111" stroke="#111" stroke-width="0.2">10<tspan dy="-5.33" font-size="7.31">4</tspan></text><text transform="translate(325.90000000000003 74.60000000000001) rotate(-90) scale(0.8 1)" font-family="Liberation Sans" font-size="8.6" text-anchor="middle" fill="#111" stroke="#111" stroke-width="0.2">10<tspan dy="-5.33" font-size="7.31">0</tspan></text><text x="333.5" y="84.7" font-size="7.6" text-anchor="middle" fill="#222" font-family="Liberation Sans">0</text><text x="408.6" y="86.0" font-size="6.9" text-anchor="middle" fill="#111" font-family="Liberation Sans">1000</text><line x1="332.3" y1="58.85" x2="411.7" y2="58.85" stroke="#5e5e5e" stroke-width="1.8"/><text x="397.7" y="31.2" font-size="7.9" text-anchor="start" fill="#333">0%</text><path d="M333.8 98.8H413.2V152.1" fill="none" stroke="#333" stroke-width="1.2"/><path d="M333.8 98.3V152.1H413.7" fill="none" stroke="#000" stroke-width="1.5"/><path d="M330.0 152.1h3.8M331.6 148.1h2.2M331.6 145.7h2.2M331.6 144.1h2.2M331.6 142.8h2.2M331.6 141.7h2.2M331.6 140.8h2.2M331.6 140.1h2.2M331.6 139.4h2.2M330.0 138.8h3.8M331.6 134.8h2.2M331.6 132.4h2.2M331.6 130.8h2.2M331.6 129.5h2.2M331.6 128.4h2.2M331.6 127.5h2.2M331.6 126.7h2.2M331.6 126.1h2.2M330.0 125.4h3.8M331.6 121.4h2.2M331.6 119.1h2.2M331.6 117.4h2.2M331.6 116.1h2.2M331.6 115.1h2.2M331.6 114.2h2.2M331.6 113.4h2.2M331.6 112.7h2.2M330.0 112.1h3.8M331.6 108.1h2.2M331.6 105.8h2.2M331.6 104.1h2.2M331.6 102.8h2.2M331.6 101.8h2.2M331.6 100.9h2.2M331.6 100.1h2.2M331.6 99.4h2.2M330.0 98.8h3.8" stroke="#111" stroke-width="1"/><path d="M333.8 152.1v3.2M336.4 152.1v2.4M339.1 152.1v2.4M341.7 152.1v2.4M344.4 152.1v2.4M347.0 152.1v2.4M349.7 152.1v3.2M352.3 152.1v2.4M355.0 152.1v2.4M357.6 152.1v2.4M360.3 152.1v2.4M362.9 152.1v2.4M365.6 152.1v3.2M368.2 152.1v2.4M370.9 152.1v2.4M373.5 152.1v2.4M376.1 152.1v2.4M378.8 152.1v2.4M381.4 152.1v3.2M384.1 152.1v2.4M386.7 152.1v2.4M389.4 152.1v2.4M392.0 152.1v2.4M394.7 152.1v2.4M397.3 152.1v3.2M400.0 152.1v2.4M402.6 152.1v2.4M405.3 152.1v2.4M407.9 152.1v2.4M410.6 152.1v2.4M413.2 152.1v3.2" stroke="#111" stroke-width="1.2"/><text transform="translate(327.40000000000003 99.3) rotate(-90) scale(0.8 1)" font-family="Liberation Sans" font-size="8.6" text-anchor="middle" fill="#111" stroke="#111" stroke-width="0.2">10<tspan dy="-5.33" font-size="7.31">4</tspan></text><text transform="translate(327.40000000000003 151.29999999999998) rotate(-90) scale(0.8 1)" font-family="Liberation Sans" font-size="8.6" text-anchor="middle" fill="#111" stroke="#111" stroke-width="0.2">10<tspan dy="-5.33" font-size="7.31">0</tspan></text><text x="335.0" y="161.4" font-size="7.6" text-anchor="middle" fill="#222" font-family="Liberation Sans">0</text><text x="411.5" y="162.1" font-size="6.9" text-anchor="middle" fill="#111" font-family="Liberation Sans">1000</text><line x1="333.8" y1="133.8" x2="413.2" y2="133.8" stroke="#5e5e5e" stroke-width="1.8"/><text x="397.7" y="109.2" font-size="7.9" text-anchor="start" fill="#333">0%</text><path d="M333.8 176.5H413.3V230.2" fill="none" stroke="#333" stroke-width="1.2"/><path d="M333.8 176.0V230.2H413.8" fill="none" stroke="#000" stroke-width="1.5"/><path d="M330.0 230.2h3.8M331.6 226.2h2.2M331.6 223.8h2.2M331.6 222.1h2.2M331.6 220.8h2.2M331.6 219.8h2.2M331.6 218.9h2.2M331.6 218.1h2.2M331.6 217.4h2.2M330.0 216.8h3.8M331.6 212.7h2.2M331.6 210.4h2.2M331.6 208.7h2.2M331.6 207.4h2.2M331.6 206.3h2.2M331.6 205.4h2.2M331.6 204.7h2.2M331.6 204.0h2.2M330.0 203.3h3.8M331.6 199.3h2.2M331.6 196.9h2.2M331.6 195.3h2.2M331.6 194.0h2.2M331.6 192.9h2.2M331.6 192.0h2.2M331.6 191.2h2.2M331.6 190.5h2.2M330.0 189.9h3.8M331.6 185.9h2.2M331.6 183.5h2.2M331.6 181.8h2.2M331.6 180.5h2.2M331.6 179.5h2.2M331.6 178.6h2.2M331.6 177.8h2.2M331.6 177.1h2.2M330.0 176.5h3.8" stroke="#111" stroke-width="1"/><path d="M333.8 230.2v3.2M336.4 230.2v2.4M339.1 230.2v2.4M341.8 230.2v2.4M344.4 230.2v2.4M347.1 230.2v2.4M349.7 230.2v3.2M352.4 230.2v2.4M355.0 230.2v2.4M357.7 230.2v2.4M360.3 230.2v2.4M362.9 230.2v2.4M365.6 230.2v3.2M368.2 230.2v2.4M370.9 230.2v2.4M373.6 230.2v2.4M376.2 230.2v2.4M378.9 230.2v2.4M381.5 230.2v3.2M384.2 230.2v2.4M386.8 230.2v2.4M389.4 230.2v2.4M392.1 230.2v2.4M394.8 230.2v2.4M397.4 230.2v3.2M400.1 230.2v2.4M402.7 230.2v2.4M405.4 230.2v2.4M408.0 230.2v2.4M410.6 230.2v2.4M413.3 230.2v3.2" stroke="#111" stroke-width="1.2"/><text transform="translate(327.40000000000003 177.0) rotate(-90) scale(0.8 1)" font-family="Liberation Sans" font-size="8.6" text-anchor="middle" fill="#111" stroke="#111" stroke-width="0.2">10<tspan dy="-5.33" font-size="7.31">4</tspan></text><text transform="translate(327.40000000000003 229.39999999999998) rotate(-90) scale(0.8 1)" font-family="Liberation Sans" font-size="8.6" text-anchor="middle" fill="#111" stroke="#111" stroke-width="0.2">10<tspan dy="-5.33" font-size="7.31">0</tspan></text><text x="335.0" y="239.5" font-size="7.6" text-anchor="middle" fill="#222" font-family="Liberation Sans">0</text><text x="411.5" y="239.4" font-size="6.9" text-anchor="middle" fill="#111" font-family="Liberation Sans">1000</text><line x1="333.8" y1="212.4" x2="413.3" y2="212.4" stroke="#333" stroke-width="1.3"/><text x="398.8" y="187.6" font-size="7.9" text-anchor="start" fill="#333">0%</text><path d="M334.7 257.7H412.2V312.0" fill="none" stroke="#333" stroke-width="1.2"/><path d="M334.7 257.2V312.0H412.7" fill="none" stroke="#000" stroke-width="1.5"/><path d="M330.9 312.0h3.8M332.5 307.9h2.2M332.5 305.5h2.2M332.5 303.8h2.2M332.5 302.5h2.2M332.5 301.4h2.2M332.5 300.5h2.2M332.5 299.7h2.2M332.5 299.0h2.2M330.9 298.4h3.8M332.5 294.3h2.2M332.5 291.9h2.2M332.5 290.3h2.2M332.5 288.9h2.2M332.5 287.9h2.2M332.5 287.0h2.2M332.5 286.2h2.2M332.5 285.5h2.2M330.9 284.9h3.8M332.5 280.8h2.2M332.5 278.4h2.2M332.5 276.7h2.2M332.5 275.4h2.2M332.5 274.3h2.2M332.5 273.4h2.2M332.5 272.6h2.2M332.5 271.9h2.2M330.9 271.3h3.8M332.5 267.2h2.2M332.5 264.8h2.2M332.5 263.1h2.2M332.5 261.8h2.2M332.5 260.7h2.2M332.5 259.8h2.2M332.5 259.0h2.2M332.5 258.3h2.2M330.9 257.7h3.8" stroke="#111" stroke-width="1"/><path d="M334.7 312.0v3.2M337.3 312.0v2.4M339.9 312.0v2.4M342.4 312.0v2.4M345.0 312.0v2.4M347.6 312.0v2.4M350.2 312.0v3.2M352.8 312.0v2.4M355.4 312.0v2.4M357.9 312.0v2.4M360.5 312.0v2.4M363.1 312.0v2.4M365.7 312.0v3.2M368.3 312.0v2.4M370.9 312.0v2.4M373.4 312.0v2.4M376.0 312.0v2.4M378.6 312.0v2.4M381.2 312.0v3.2M383.8 312.0v2.4M386.4 312.0v2.4M388.9 312.0v2.4M391.5 312.0v2.4M394.1 312.0v2.4M396.7 312.0v3.2M399.3 312.0v2.4M401.9 312.0v2.4M404.4 312.0v2.4M407.0 312.0v2.4M409.6 312.0v2.4M412.2 312.0v3.2" stroke="#111" stroke-width="1.2"/><text transform="translate(328.3 258.2) rotate(-90) scale(0.8 1)" font-family="Liberation Sans" font-size="8.6" text-anchor="middle" fill="#111" stroke="#111" stroke-width="0.2">10<tspan dy="-5.33" font-size="7.31">4</tspan></text><text transform="translate(328.3 311.2) rotate(-90) scale(0.8 1)" font-family="Liberation Sans" font-size="8.6" text-anchor="middle" fill="#111" stroke="#111" stroke-width="0.2">10<tspan dy="-5.33" font-size="7.31">0</tspan></text><text x="335.9" y="321.3" font-size="7.6" text-anchor="middle" fill="#222" font-family="Liberation Sans">0</text><text x="410.6" y="321.6" font-size="6.9" text-anchor="middle" fill="#111" font-family="Liberation Sans">1000</text><line x1="334.7" y1="293.5" x2="412.2" y2="293.5" stroke="#333" stroke-width="1.3"/><text x="400.0" y="267.0" font-size="7.9" text-anchor="start" fill="#333">0%</text><path d="M333.8 335.4H411.4V387.9" fill="none" stroke="#333" stroke-width="1.2"/><path d="M333.8 334.9V387.9H411.9" fill="none" stroke="#000" stroke-width="1.5"/><path d="M330.0 387.9h3.8M331.6 383.9h2.2M331.6 381.6h2.2M331.6 380.0h2.2M331.6 378.7h2.2M331.6 377.7h2.2M331.6 376.8h2.2M331.6 376.0h2.2M331.6 375.4h2.2M330.0 374.8h3.8M331.6 370.8h2.2M331.6 368.5h2.2M331.6 366.9h2.2M331.6 365.6h2.2M331.6 364.6h2.2M331.6 363.7h2.2M331.6 362.9h2.2M331.6 362.3h2.2M330.0 361.6h3.8M331.6 357.7h2.2M331.6 355.4h2.2M331.6 353.7h2.2M331.6 352.5h2.2M331.6 351.4h2.2M331.6 350.6h2.2M331.6 349.8h2.2M331.6 349.1h2.2M330.0 348.5h3.8M331.6 344.6h2.2M331.6 342.3h2.2M331.6 340.6h2.2M331.6 339.4h2.2M331.6 338.3h2.2M331.6 337.4h2.2M331.6 336.7h2.2M331.6 336.0h2.2M330.0 335.4h3.8" stroke="#111" stroke-width="1"/><path d="M333.8 387.9v3.2M336.4 387.9v2.4M339.0 387.9v2.4M341.6 387.9v2.4M344.1 387.9v2.4M346.7 387.9v2.4M349.3 387.9v3.2M351.9 387.9v2.4M354.5 387.9v2.4M357.1 387.9v2.4M359.7 387.9v2.4M362.3 387.9v2.4M364.8 387.9v3.2M367.4 387.9v2.4M370.0 387.9v2.4M372.6 387.9v2.4M375.2 387.9v2.4M377.8 387.9v2.4M380.4 387.9v3.2M382.9 387.9v2.4M385.5 387.9v2.4M388.1 387.9v2.4M390.7 387.9v2.4M393.3 387.9v2.4M395.9 387.9v3.2M398.5 387.9v2.4M401.1 387.9v2.4M403.6 387.9v2.4M406.2 387.9v2.4M408.8 387.9v2.4M411.4 387.9v3.2" stroke="#111" stroke-width="1.2"/><text transform="translate(327.40000000000003 335.9) rotate(-90) scale(0.8 1)" font-family="Liberation Sans" font-size="8.6" text-anchor="middle" fill="#111" stroke="#111" stroke-width="0.2">10<tspan dy="-5.33" font-size="7.31">4</tspan></text><text transform="translate(327.40000000000003 387.09999999999997) rotate(-90) scale(0.8 1)" font-family="Liberation Sans" font-size="8.6" text-anchor="middle" fill="#111" stroke="#111" stroke-width="0.2">10<tspan dy="-5.33" font-size="7.31">0</tspan></text><text x="335.0" y="397.2" font-size="7.6" text-anchor="middle" fill="#222" font-family="Liberation Sans">0</text><text x="408.5" y="398.6" font-size="6.9" text-anchor="middle" fill="#111" font-family="Liberation Sans">1000</text><line x1="333.8" y1="370.8" x2="411.4" y2="370.8" stroke="#5e5e5e" stroke-width="1.8"/><text x="398.8" y="347.0" font-size="7.9" text-anchor="start" fill="#333">0%</text><path d="M441.5 22.5H514.6V73.8" fill="none" stroke="#333" stroke-width="1.2"/><path d="M441.5 22.0V73.8H515.1" fill="none" stroke="#000" stroke-width="1.5"/><path d="M437.7 73.8h3.8M439.3 69.9h2.2M439.3 67.7h2.2M439.3 66.1h2.2M439.3 64.8h2.2M439.3 63.8h2.2M439.3 63.0h2.2M439.3 62.2h2.2M439.3 61.6h2.2M437.7 61.0h3.8M439.3 57.1h2.2M439.3 54.9h2.2M439.3 53.3h2.2M439.3 52.0h2.2M439.3 51.0h2.2M439.3 50.1h2.2M439.3 49.4h2.2M439.3 48.7h2.2M437.7 48.1h3.8M439.3 44.3h2.2M439.3 42.0h2.2M439.3 40.4h2.2M439.3 39.2h2.2M439.3 38.2h2.2M439.3 37.3h2.2M439.3 36.6h2.2M439.3 35.9h2.2M437.7 35.3h3.8M439.3 31.5h2.2M439.3 29.2h2.2M439.3 27.6h2.2M439.3 26.4h2.2M439.3 25.3h2.2M439.3 24.5h2.2M439.3 23.7h2.2M439.3 23.1h2.2M437.7 22.5h3.8" stroke="#111" stroke-width="1"/><path d="M441.5 73.8v2.5M447.0 73.8v1.6M450.2 73.8v1.6M452.5 73.8v1.6M454.3 73.8v1.6M455.7 73.8v1.6M456.9 73.8v1.6M458.0 73.8v1.6M458.9 73.8v1.6M459.8 73.8v2.5M465.3 73.8v1.6M468.5 73.8v1.6M470.8 73.8v1.6M472.5 73.8v1.6M474.0 73.8v1.6M475.2 73.8v1.6M476.3 73.8v1.6M477.2 73.8v1.6M478.1 73.8v2.5M483.6 73.8v1.6M486.8 73.8v1.6M489.1 73.8v1.6M490.8 73.8v1.6M492.3 73.8v1.6M493.5 73.8v1.6M494.6 73.8v1.6M495.5 73.8v1.6M496.3 73.8v2.5M501.8 73.8v1.6M505.0 73.8v1.6M507.3 73.8v1.6M509.1 73.8v1.6M510.5 73.8v1.6M511.8 73.8v1.6M512.8 73.8v1.6M513.8 73.8v1.6M514.6 73.8v2.5" stroke="#111" stroke-width="1.2"/><text transform="translate(435.1 23.0) rotate(-90) scale(0.8 1)" font-family="Liberation Sans" font-size="8.6" text-anchor="middle" fill="#111" stroke="#111" stroke-width="0.2">10<tspan dy="-5.33" font-size="7.31">4</tspan></text><text transform="translate(435.1 73.0) rotate(-90) scale(0.8 1)" font-family="Liberation Sans" font-size="8.6" text-anchor="middle" fill="#111" stroke="#111" stroke-width="0.2">10<tspan dy="-5.33" font-size="7.31">0</tspan></text><text x="442.00" y="85.3" font-family="Liberation Sans" font-size="7.4" text-anchor="middle" fill="#111" stroke="#111" stroke-width="0.3">10<tspan dy="-3.70" font-size="6.66">0</tspan></text><text x="460.27" y="85.3" font-family="Liberation Sans" font-size="7.4" text-anchor="middle" fill="#111" stroke="#111" stroke-width="0.3">10<tspan dy="-3.70" font-size="6.66">1</tspan></text><text x="478.55" y="85.3" font-family="Liberation Sans" font-size="7.4" text-anchor="middle" fill="#111" stroke="#111" stroke-width="0.3">10<tspan dy="-3.70" font-size="6.66">2</tspan></text><text x="496.83" y="85.3" font-family="Liberation Sans" font-size="7.4" text-anchor="middle" fill="#111" stroke="#111" stroke-width="0.3">10<tspan dy="-3.70" font-size="6.66">3</tspan></text><text x="515.10" y="85.3" font-family="Liberation Sans" font-size="7.4" text-anchor="middle" fill="#111" stroke="#111" stroke-width="0.3">10<tspan dy="-3.70" font-size="6.66">4</tspan></text><line x1="472.5" y1="22.5" x2="472.5" y2="73.8" stroke="#4a4a4a" stroke-width="1.6"/><line x1="472.5" y1="54.9" x2="514.6" y2="54.9" stroke="#4a4a4a" stroke-width="1.6"/><text x="450.3" y="31.5" font-size="7.9" text-anchor="start" fill="#333">0.5%</text><text x="501.0" y="31.5" font-size="7.9" text-anchor="start" fill="#333">1%</text><path d="M441.8 97.3H514.5V148.3" fill="none" stroke="#333" stroke-width="1.2"/><path d="M441.8 96.8V148.3H515.0" fill="none" stroke="#000" stroke-width="1.5"/><path d="M438.0 148.3h3.8M439.6 144.5h2.2M439.6 142.2h2.2M439.6 140.6h2.2M439.6 139.4h2.2M439.6 138.4h2.2M439.6 137.5h2.2M439.6 136.8h2.2M439.6 136.1h2.2M438.0 135.6h3.8M439.6 131.7h2.2M439.6 129.5h2.2M439.6 127.9h2.2M439.6 126.6h2.2M439.6 125.6h2.2M439.6 124.8h2.2M439.6 124.0h2.2M439.6 123.4h2.2M438.0 122.8h3.8M439.6 119.0h2.2M439.6 116.7h2.2M439.6 115.1h2.2M439.6 113.9h2.2M439.6 112.9h2.2M439.6 112.0h2.2M439.6 111.3h2.2M439.6 110.6h2.2M438.0 110.0h3.8M439.6 106.2h2.2M439.6 104.0h2.2M439.6 102.4h2.2M439.6 101.1h2.2M439.6 100.1h2.2M439.6 99.3h2.2M439.6 98.5h2.2M439.6 97.9h2.2M438.0 97.3h3.8" stroke="#111" stroke-width="1"/><path d="M441.8 148.3v2.5M447.3 148.3v1.6M450.5 148.3v1.6M452.7 148.3v1.6M454.5 148.3v1.6M455.9 148.3v1.6M457.2 148.3v1.6M458.2 148.3v1.6M459.1 148.3v1.6M460.0 148.3v2.5M465.4 148.3v1.6M468.6 148.3v1.6M470.9 148.3v1.6M472.7 148.3v1.6M474.1 148.3v1.6M475.3 148.3v1.6M476.4 148.3v1.6M477.3 148.3v1.6M478.1 148.3v2.5M483.6 148.3v1.6M486.8 148.3v1.6M489.1 148.3v1.6M490.9 148.3v1.6M492.3 148.3v1.6M493.5 148.3v1.6M494.6 148.3v1.6M495.5 148.3v1.6M496.3 148.3v2.5M501.8 148.3v1.6M505.0 148.3v1.6M507.3 148.3v1.6M509.0 148.3v1.6M510.5 148.3v1.6M511.7 148.3v1.6M512.7 148.3v1.6M513.7 148.3v1.6M514.5 148.3v2.5" stroke="#111" stroke-width="1.2"/><text transform="translate(435.40000000000003 97.8) rotate(-90) scale(0.8 1)" font-family="Liberation Sans" font-size="8.6" text-anchor="middle" fill="#111" stroke="#111" stroke-width="0.2">10<tspan dy="-5.33" font-size="7.31">4</tspan></text><text transform="translate(435.40000000000003 147.5) rotate(-90) scale(0.8 1)" font-family="Liberation Sans" font-size="8.6" text-anchor="middle" fill="#111" stroke="#111" stroke-width="0.2">10<tspan dy="-5.33" font-size="7.31">0</tspan></text><text x="442.30" y="159.8" font-family="Liberation Sans" font-size="7.4" text-anchor="middle" fill="#111" stroke="#111" stroke-width="0.3">10<tspan dy="-3.70" font-size="6.66">0</tspan></text><text x="460.48" y="159.8" font-family="Liberation Sans" font-size="7.4" text-anchor="middle" fill="#111" stroke="#111" stroke-width="0.3">10<tspan dy="-3.70" font-size="6.66">1</tspan></text><text x="478.65" y="159.8" font-family="Liberation Sans" font-size="7.4" text-anchor="middle" fill="#111" stroke="#111" stroke-width="0.3">10<tspan dy="-3.70" font-size="6.66">2</tspan></text><text x="496.82" y="159.8" font-family="Liberation Sans" font-size="7.4" text-anchor="middle" fill="#111" stroke="#111" stroke-width="0.3">10<tspan dy="-3.70" font-size="6.66">3</tspan></text><text x="515.00" y="159.8" font-family="Liberation Sans" font-size="7.4" text-anchor="middle" fill="#111" stroke="#111" stroke-width="0.3">10<tspan dy="-3.70" font-size="6.66">4</tspan></text><line x1="472.6" y1="97.3" x2="472.6" y2="148.3" stroke="#5e5e5e" stroke-width="1.8"/><line x1="472.6" y1="130.5" x2="514.5" y2="130.5" stroke="#5e5e5e" stroke-width="1.8"/><text x="455.0" y="107.3" font-size="7.9" text-anchor="start" fill="#333">2%</text><text x="496.5" y="107.3" font-size="7.9" text-anchor="start" fill="#333">1%</text><path d="M441.6 174.4H514.6V225.4" fill="none" stroke="#333" stroke-width="1.2"/><path d="M441.6 173.9V225.4H515.1" fill="none" stroke="#000" stroke-width="1.5"/><path d="M437.8 225.4h3.8M439.4 221.6h2.2M439.4 219.3h2.2M439.4 217.7h2.2M439.4 216.5h2.2M439.4 215.5h2.2M439.4 214.6h2.2M439.4 213.9h2.2M439.4 213.2h2.2M437.8 212.7h3.8M439.4 208.8h2.2M439.4 206.6h2.2M439.4 205.0h2.2M439.4 203.7h2.2M439.4 202.7h2.2M439.4 201.9h2.2M439.4 201.1h2.2M439.4 200.5h2.2M437.8 199.9h3.8M439.4 196.1h2.2M439.4 193.8h2.2M439.4 192.2h2.2M439.4 191.0h2.2M439.4 190.0h2.2M439.4 189.1h2.2M439.4 188.4h2.2M439.4 187.7h2.2M437.8 187.2h3.8M439.4 183.3h2.2M439.4 181.1h2.2M439.4 179.5h2.2M439.4 178.2h2.2M439.4 177.2h2.2M439.4 176.4h2.2M439.4 175.6h2.2M439.4 175.0h2.2M437.8 174.4h3.8" stroke="#111" stroke-width="1"/><path d="M441.6 225.4v2.5M447.1 225.4v1.6M450.3 225.4v1.6M452.6 225.4v1.6M454.4 225.4v1.6M455.8 225.4v1.6M457.0 225.4v1.6M458.1 225.4v1.6M459.0 225.4v1.6M459.9 225.4v2.5M465.3 225.4v1.6M468.6 225.4v1.6M470.8 225.4v1.6M472.6 225.4v1.6M474.1 225.4v1.6M475.3 225.4v1.6M476.3 225.4v1.6M477.3 225.4v1.6M478.1 225.4v2.5M483.6 225.4v1.6M486.8 225.4v1.6M489.1 225.4v1.6M490.9 225.4v1.6M492.3 225.4v1.6M493.5 225.4v1.6M494.6 225.4v1.6M495.5 225.4v1.6M496.4 225.4v2.5M501.8 225.4v1.6M505.1 225.4v1.6M507.3 225.4v1.6M509.1 225.4v1.6M510.6 225.4v1.6M511.8 225.4v1.6M512.8 225.4v1.6M513.8 225.4v1.6M514.6 225.4v2.5" stroke="#111" stroke-width="1.2"/><text transform="translate(435.20000000000005 174.9) rotate(-90) scale(0.8 1)" font-family="Liberation Sans" font-size="8.6" text-anchor="middle" fill="#111" stroke="#111" stroke-width="0.2">10<tspan dy="-5.33" font-size="7.31">4</tspan></text><text transform="translate(435.20000000000005 224.6) rotate(-90) scale(0.8 1)" font-family="Liberation Sans" font-size="8.6" text-anchor="middle" fill="#111" stroke="#111" stroke-width="0.2">10<tspan dy="-5.33" font-size="7.31">0</tspan></text><text x="442.10" y="236.9" font-family="Liberation Sans" font-size="7.4" text-anchor="middle" fill="#111" stroke="#111" stroke-width="0.3">10<tspan dy="-3.70" font-size="6.66">0</tspan></text><text x="460.35" y="236.9" font-family="Liberation Sans" font-size="7.4" text-anchor="middle" fill="#111" stroke="#111" stroke-width="0.3">10<tspan dy="-3.70" font-size="6.66">1</tspan></text><text x="478.60" y="236.9" font-family="Liberation Sans" font-size="7.4" text-anchor="middle" fill="#111" stroke="#111" stroke-width="0.3">10<tspan dy="-3.70" font-size="6.66">2</tspan></text><text x="496.85" y="236.9" font-family="Liberation Sans" font-size="7.4" text-anchor="middle" fill="#111" stroke="#111" stroke-width="0.3">10<tspan dy="-3.70" font-size="6.66">3</tspan></text><text x="515.10" y="236.9" font-family="Liberation Sans" font-size="7.4" text-anchor="middle" fill="#111" stroke="#111" stroke-width="0.3">10<tspan dy="-3.70" font-size="6.66">4</tspan></text><line x1="466.8" y1="174.4" x2="466.8" y2="225.4" stroke="#5e5e5e" stroke-width="1.8"/><line x1="466.8" y1="208.5" x2="514.6" y2="208.5" stroke="#5e5e5e" stroke-width="1.8"/><text x="450.6" y="184.3" font-size="7.9" text-anchor="start" fill="#333">43%</text><text x="499.5" y="184.3" font-size="7.9" text-anchor="start" fill="#333">58%</text><path d="M441.6 254.8H514.8V306.0" fill="none" stroke="#333" stroke-width="1.2"/><path d="M441.6 254.3V306.0H515.3" fill="none" stroke="#000" stroke-width="1.5"/><path d="M437.8 306.0h3.8M439.4 302.1h2.2M439.4 299.9h2.2M439.4 298.3h2.2M439.4 297.1h2.2M439.4 296.0h2.2M439.4 295.2h2.2M439.4 294.4h2.2M439.4 293.8h2.2M437.8 293.2h3.8M439.4 289.3h2.2M439.4 287.1h2.2M439.4 285.5h2.2M439.4 284.3h2.2M439.4 283.2h2.2M439.4 282.4h2.2M439.4 281.6h2.2M439.4 281.0h2.2M437.8 280.4h3.8M439.4 276.5h2.2M439.4 274.3h2.2M439.4 272.7h2.2M439.4 271.5h2.2M439.4 270.4h2.2M439.4 269.6h2.2M439.4 268.8h2.2M439.4 268.2h2.2M437.8 267.6h3.8M439.4 263.7h2.2M439.4 261.5h2.2M439.4 259.9h2.2M439.4 258.7h2.2M439.4 257.6h2.2M439.4 256.8h2.2M439.4 256.0h2.2M439.4 255.4h2.2M437.8 254.8h3.8" stroke="#111" stroke-width="1"/><path d="M441.6 306.0v2.5M447.1 306.0v1.6M450.3 306.0v1.6M452.6 306.0v1.6M454.4 306.0v1.6M455.8 306.0v1.6M457.1 306.0v1.6M458.1 306.0v1.6M459.1 306.0v1.6M459.9 306.0v2.5M465.4 306.0v1.6M468.6 306.0v1.6M470.9 306.0v1.6M472.7 306.0v1.6M474.1 306.0v1.6M475.4 306.0v1.6M476.4 306.0v1.6M477.4 306.0v1.6M478.2 306.0v2.5M483.7 306.0v1.6M486.9 306.0v1.6M489.2 306.0v1.6M491.0 306.0v1.6M492.4 306.0v1.6M493.7 306.0v1.6M494.7 306.0v1.6M495.7 306.0v1.6M496.5 306.0v2.5M502.0 306.0v1.6M505.2 306.0v1.6M507.5 306.0v1.6M509.3 306.0v1.6M510.7 306.0v1.6M512.0 306.0v1.6M513.0 306.0v1.6M514.0 306.0v1.6M514.8 306.0v2.5" stroke="#111" stroke-width="1.2"/><text transform="translate(435.20000000000005 255.3) rotate(-90) scale(0.8 1)" font-family="Liberation Sans" font-size="8.6" text-anchor="middle" fill="#111" stroke="#111" stroke-width="0.2">10<tspan dy="-5.33" font-size="7.31">4</tspan></text><text transform="translate(435.20000000000005 305.2) rotate(-90) scale(0.8 1)" font-family="Liberation Sans" font-size="8.6" text-anchor="middle" fill="#111" stroke="#111" stroke-width="0.2">10<tspan dy="-5.33" font-size="7.31">0</tspan></text><text x="442.10" y="317.5" font-family="Liberation Sans" font-size="7.4" text-anchor="middle" fill="#111" stroke="#111" stroke-width="0.3">10<tspan dy="-3.70" font-size="6.66">0</tspan></text><text x="460.40" y="317.5" font-family="Liberation Sans" font-size="7.4" text-anchor="middle" fill="#111" stroke="#111" stroke-width="0.3">10<tspan dy="-3.70" font-size="6.66">1</tspan></text><text x="478.70" y="317.5" font-family="Liberation Sans" font-size="7.4" text-anchor="middle" fill="#111" stroke="#111" stroke-width="0.3">10<tspan dy="-3.70" font-size="6.66">2</tspan></text><text x="497.00" y="317.5" font-family="Liberation Sans" font-size="7.4" text-anchor="middle" fill="#111" stroke="#111" stroke-width="0.3">10<tspan dy="-3.70" font-size="6.66">3</tspan></text><text x="515.30" y="317.5" font-family="Liberation Sans" font-size="7.4" text-anchor="middle" fill="#111" stroke="#111" stroke-width="0.3">10<tspan dy="-3.70" font-size="6.66">4</tspan></text><line x1="466.7" y1="254.8" x2="466.7" y2="306.0" stroke="#5e5e5e" stroke-width="1.8"/><line x1="466.7" y1="288.9" x2="514.8" y2="288.9" stroke="#5e5e5e" stroke-width="1.8"/><text x="450.6" y="262.8" font-size="7.9" text-anchor="start" fill="#333">46%</text><text x="499.5" y="262.8" font-size="7.9" text-anchor="start" fill="#333">47%</text><path d="M441.6 334.6H514.6V385.2" fill="none" stroke="#333" stroke-width="1.2"/><path d="M441.6 334.1V385.2H515.1" fill="none" stroke="#000" stroke-width="1.5"/><path d="M437.8 385.2h3.8M439.4 381.4h2.2M439.4 379.2h2.2M439.4 377.6h2.2M439.4 376.4h2.2M439.4 375.4h2.2M439.4 374.5h2.2M439.4 373.8h2.2M439.4 373.1h2.2M437.8 372.6h3.8M439.4 368.7h2.2M439.4 366.5h2.2M439.4 364.9h2.2M439.4 363.7h2.2M439.4 362.7h2.2M439.4 361.9h2.2M439.4 361.1h2.2M439.4 360.5h2.2M437.8 359.9h3.8M439.4 356.1h2.2M439.4 353.9h2.2M439.4 352.3h2.2M439.4 351.1h2.2M439.4 350.1h2.2M439.4 349.2h2.2M439.4 348.5h2.2M439.4 347.8h2.2M437.8 347.2h3.8M439.4 343.4h2.2M439.4 341.2h2.2M439.4 339.6h2.2M439.4 338.4h2.2M439.4 337.4h2.2M439.4 336.6h2.2M439.4 335.8h2.2M439.4 335.2h2.2M437.8 334.6h3.8" stroke="#111" stroke-width="1"/><path d="M441.6 385.2v2.5M447.1 385.2v1.6M450.3 385.2v1.6M452.6 385.2v1.6M454.4 385.2v1.6M455.8 385.2v1.6M457.0 385.2v1.6M458.1 385.2v1.6M459.0 385.2v1.6M459.9 385.2v2.5M465.3 385.2v1.6M468.6 385.2v1.6M470.8 385.2v1.6M472.6 385.2v1.6M474.1 385.2v1.6M475.3 385.2v1.6M476.3 385.2v1.6M477.3 385.2v1.6M478.1 385.2v2.5M483.6 385.2v1.6M486.8 385.2v1.6M489.1 385.2v1.6M490.9 385.2v1.6M492.3 385.2v1.6M493.5 385.2v1.6M494.6 385.2v1.6M495.5 385.2v1.6M496.4 385.2v2.5M501.8 385.2v1.6M505.1 385.2v1.6M507.3 385.2v1.6M509.1 385.2v1.6M510.6 385.2v1.6M511.8 385.2v1.6M512.8 385.2v1.6M513.8 385.2v1.6M514.6 385.2v2.5" stroke="#111" stroke-width="1.2"/><text transform="translate(435.20000000000005 335.1) rotate(-90) scale(0.8 1)" font-family="Liberation Sans" font-size="8.6" text-anchor="middle" fill="#111" stroke="#111" stroke-width="0.2">10<tspan dy="-5.33" font-size="7.31">4</tspan></text><text transform="translate(435.20000000000005 384.4) rotate(-90) scale(0.8 1)" font-family="Liberation Sans" font-size="8.6" text-anchor="middle" fill="#111" stroke="#111" stroke-width="0.2">10<tspan dy="-5.33" font-size="7.31">0</tspan></text><text x="442.10" y="396.7" font-family="Liberation Sans" font-size="7.4" text-anchor="middle" fill="#111" stroke="#111" stroke-width="0.3">10<tspan dy="-3.70" font-size="6.66">0</tspan></text><text x="460.35" y="396.7" font-family="Liberation Sans" font-size="7.4" text-anchor="middle" fill="#111" stroke="#111" stroke-width="0.3">10<tspan dy="-3.70" font-size="6.66">1</tspan></text><text x="478.60" y="396.7" font-family="Liberation Sans" font-size="7.4" text-anchor="middle" fill="#111" stroke="#111" stroke-width="0.3">10<tspan dy="-3.70" font-size="6.66">2</tspan></text><text x="496.85" y="396.7" font-family="Liberation Sans" font-size="7.4" text-anchor="middle" fill="#111" stroke="#111" stroke-width="0.3">10<tspan dy="-3.70" font-size="6.66">3</tspan></text><text x="515.10" y="396.7" font-family="Liberation Sans" font-size="7.4" text-anchor="middle" fill="#111" stroke="#111" stroke-width="0.3">10<tspan dy="-3.70" font-size="6.66">4</tspan></text><line x1="467.0" y1="334.6" x2="467.0" y2="385.2" stroke="#5e5e5e" stroke-width="1.8"/><line x1="467.0" y1="367.8" x2="514.6" y2="367.8" stroke="#5e5e5e" stroke-width="1.8"/><text x="451.0" y="343.0" font-size="7.9" text-anchor="start" fill="#333">38%</text><text x="500.3" y="343.0" font-size="7.9" text-anchor="start" fill="#333">44%</text>
<path d="M117 26h1v1h-1zM113 33h1v1h-1zM120 33h1v1h-1zM119 34h1v1h-1zM489 34h1v1h-1zM492 34h1v1h-1zM118 35h1v1h-1zM492 35h1v1h-1zM483 36h1v1h-1zM489 36h1v1h-1zM498 36h1v1h-1zM121 37h1v1h-1zM486 37h1v1h-1zM490 37h1v1h-1zM478 38h1v1h-1zM486 38h1v1h-1zM492 38h2v1h-2zM483 39h1v1h-1zM495 39h1v1h-1zM116 40h1v1h-1zM477 40h1v1h-1zM486 40h1v1h-1zM493 40h1v1h-1zM489 41h1v1h-1zM115 42h1v1h-1zM120 42h1v1h-1zM482 42h1v1h-1zM116 44h1v1h-1zM499 44h1v1h-1zM466 46h1v1h-1zM484 46h1v1h-1zM233 48h1v1h-1zM454 48h1v1h-1zM456 48h1v1h-1zM482 48h1v1h-1zM206 49h1v1h-1zM215 49h1v1h-1zM231 49h1v1h-1zM119 50h1v1h-1zM208 50h1v1h-1zM212 50h1v1h-1zM215 50h1v1h-1zM219 50h1v1h-1zM229 50h1v1h-1zM232 50h1v1h-1zM249 50h1v1h-1zM256 50h1v1h-1zM457 50h1v1h-1zM496 50h1v1h-1zM498 50h2v1h-2zM501 50h1v1h-1zM207 51h1v1h-1zM209 51h1v1h-1zM211 51h1v1h-1zM213 51h3v1h-3zM218 51h1v1h-1zM220 51h1v1h-1zM227 51h2v1h-2zM231 51h1v1h-1zM234 51h1v1h-1zM243 51h1v1h-1zM258 51h1v1h-1zM453 51h1v1h-1zM491 51h2v1h-2zM494 51h1v1h-1zM497 51h4v1h-4zM115 52h1v1h-1zM119 52h1v1h-1zM207 52h3v1h-3zM214 52h3v1h-3zM218 52h1v1h-1zM220 52h3v1h-3zM231 52h1v1h-1zM238 52h1v1h-1zM247 52h2v1h-2zM251 52h1v1h-1zM253 52h1v1h-1zM259 52h1v1h-1zM265 52h1v1h-1zM457 52h1v1h-1zM487 52h1v1h-1zM490 52h16v1h-16zM115 53h1v1h-1zM206 53h1v1h-1zM208 53h4v1h-4zM213 53h1v1h-1zM217 53h1v1h-1zM220 53h3v1h-3zM226 53h1v1h-1zM231 53h1v1h-1zM234 53h1v1h-1zM238 53h2v1h-2zM242 53h1v1h-1zM244 53h2v1h-2zM247 53h1v1h-1zM250 53h2v1h-2zM256 53h2v1h-2zM268 53h1v1h-1zM275 53h1v1h-1zM455 53h1v1h-1zM483 53h1v1h-1zM485 53h11v1h-11zM497 53h9v1h-9zM206 54h8v1h-8zM216 54h1v1h-1zM218 54h2v1h-2zM222 54h1v1h-1zM224 54h1v1h-1zM226 54h6v1h-6zM233 54h3v1h-3zM238 54h1v1h-1zM240 54h3v1h-3zM248 54h1v1h-1zM253 54h1v1h-1zM260 54h1v1h-1zM262 54h2v1h-2zM270 54h1v1h-1zM276 54h2v1h-2zM466 54h1v1h-1zM473 54h1v1h-1zM475 54h1v1h-1zM478 54h1v1h-1zM480 54h27v1h-27zM117 55h1v1h-1zM206 55h7v1h-7zM214 55h7v1h-7zM223 55h8v1h-8zM235 55h2v1h-2zM238 55h1v1h-1zM242 55h1v1h-1zM245 55h3v1h-3zM249 55h1v1h-1zM251 55h1v1h-1zM254 55h1v1h-1zM256 55h1v1h-1zM260 55h1v1h-1zM262 55h3v1h-3zM268 55h1v1h-1zM272 55h1v1h-1zM446 55h1v1h-1zM452 55h1v1h-1zM454 55h2v1h-2zM457 55h1v1h-1zM460 55h3v1h-3zM465 55h2v1h-2zM470 55h36v1h-36zM206 56h13v1h-13zM221 56h12v1h-12zM234 56h2v1h-2zM243 56h4v1h-4zM250 56h1v1h-1zM252 56h1v1h-1zM270 56h1v1h-1zM444 56h1v1h-1zM447 56h2v1h-2zM450 56h12v1h-12zM463 56h20v1h-20zM484 56h2v1h-2zM487 56h17v1h-17zM505 56h1v1h-1zM118 57h1v1h-1zM206 57h21v1h-21zM228 57h9v1h-9zM239 57h1v1h-1zM241 57h4v1h-4zM246 57h1v1h-1zM248 57h2v1h-2zM253 57h1v1h-1zM259 57h3v1h-3zM263 57h1v1h-1zM267 57h1v1h-1zM269 57h2v1h-2zM272 57h2v1h-2zM278 57h1v1h-1zM280 57h3v1h-3zM443 57h2v1h-2zM446 57h2v1h-2zM452 57h15v1h-15zM468 57h15v1h-15zM484 57h20v1h-20zM505 57h1v1h-1zM206 58h32v1h-32zM240 58h1v1h-1zM242 58h5v1h-5zM248 58h1v1h-1zM250 58h2v1h-2zM253 58h8v1h-8zM262 58h1v1h-1zM265 58h3v1h-3zM269 58h1v1h-1zM271 58h2v1h-2zM276 58h1v1h-1zM279 58h1v1h-1zM282 58h1v1h-1zM372 58h1v1h-1zM376 58h1v1h-1zM442 58h1v1h-1zM444 58h1v1h-1zM446 58h1v1h-1zM448 58h1v1h-1zM450 58h8v1h-8zM459 58h48v1h-48zM114 59h1v1h-1zM117 59h1v1h-1zM206 59h14v1h-14zM221 59h6v1h-6zM228 59h5v1h-5zM234 59h18v1h-18zM253 59h5v1h-5zM260 59h1v1h-1zM262 59h5v1h-5zM270 59h1v1h-1zM272 59h2v1h-2zM276 59h1v1h-1zM278 59h1v1h-1zM280 59h3v1h-3zM367 59h2v1h-2zM379 59h1v1h-1zM381 59h1v1h-1zM443 59h2v1h-2zM446 59h2v1h-2zM449 59h1v1h-1zM451 59h6v1h-6zM458 59h8v1h-8zM467 59h6v1h-6zM474 59h8v1h-8zM483 59h15v1h-15zM499 59h7v1h-7zM113 60h6v1h-6zM206 60h28v1h-28zM235 60h28v1h-28zM264 60h1v1h-1zM267 60h4v1h-4zM275 60h1v1h-1zM277 60h5v1h-5zM369 60h1v1h-1zM372 60h2v1h-2zM377 60h3v1h-3zM444 60h1v1h-1zM447 60h2v1h-2zM451 60h34v1h-34zM486 60h20v1h-20zM113 61h7v1h-7zM206 61h8v1h-8zM215 61h37v1h-37zM253 61h20v1h-20zM274 61h1v1h-1zM276 61h1v1h-1zM279 61h4v1h-4zM364 61h2v1h-2zM369 61h11v1h-11zM383 61h1v1h-1zM385 61h1v1h-1zM447 61h1v1h-1zM451 61h18v1h-18zM470 61h37v1h-37zM112 62h9v1h-9zM206 62h8v1h-8zM215 62h17v1h-17zM233 62h10v1h-10zM244 62h5v1h-5zM250 62h20v1h-20zM272 62h4v1h-4zM277 62h5v1h-5zM366 62h1v1h-1zM368 62h12v1h-12zM445 62h1v1h-1zM447 62h1v1h-1zM449 62h2v1h-2zM452 62h18v1h-18zM471 62h20v1h-20zM492 62h14v1h-14zM111 63h11v1h-11zM206 63h2v1h-2zM209 63h19v1h-19zM229 63h11v1h-11zM241 63h22v1h-22zM264 63h5v1h-5zM272 63h4v1h-4zM277 63h2v1h-2zM281 63h1v1h-1zM364 63h1v1h-1zM367 63h14v1h-14zM385 63h1v1h-1zM443 63h1v1h-1zM446 63h2v1h-2zM451 63h9v1h-9zM461 63h15v1h-15zM477 63h29v1h-29zM111 64h5v1h-5zM117 64h5v1h-5zM206 64h3v1h-3zM210 64h3v1h-3zM214 64h34v1h-34zM249 64h19v1h-19zM270 64h4v1h-4zM275 64h1v1h-1zM277 64h1v1h-1zM280 64h3v1h-3zM364 64h11v1h-11zM376 64h5v1h-5zM384 64h1v1h-1zM442 64h3v1h-3zM448 64h1v1h-1zM451 64h3v1h-3zM455 64h28v1h-28zM484 64h14v1h-14zM499 64h8v1h-8zM111 65h11v1h-11zM206 65h15v1h-15zM222 65h21v1h-21zM244 65h26v1h-26zM271 65h2v1h-2zM275 65h1v1h-1zM279 65h1v1h-1zM365 65h15v1h-15zM444 65h1v1h-1zM447 65h1v1h-1zM449 65h1v1h-1zM451 65h3v1h-3zM455 65h17v1h-17zM473 65h16v1h-16zM490 65h16v1h-16zM111 66h11v1h-11zM206 66h26v1h-26zM233 66h18v1h-18zM252 66h20v1h-20zM276 66h3v1h-3zM280 66h2v1h-2zM365 66h13v1h-13zM379 66h1v1h-1zM382 66h1v1h-1zM442 66h1v1h-1zM444 66h1v1h-1zM447 66h41v1h-41zM489 66h17v1h-17zM111 67h10v1h-10zM206 67h7v1h-7zM214 67h10v1h-10zM225 67h6v1h-6zM232 67h18v1h-18zM251 67h16v1h-16zM268 67h3v1h-3zM272 67h2v1h-2zM275 67h1v1h-1zM279 67h1v1h-1zM366 67h7v1h-7zM375 67h2v1h-2zM444 67h2v1h-2zM447 67h2v1h-2zM451 67h2v1h-2zM454 67h10v1h-10zM465 67h19v1h-19zM486 67h3v1h-3zM490 67h8v1h-8zM499 67h7v1h-7zM111 68h11v1h-11zM206 68h1v1h-1zM208 68h3v1h-3zM212 68h42v1h-42zM255 68h16v1h-16zM273 68h1v1h-1zM275 68h1v1h-1zM281 68h1v1h-1zM361 68h2v1h-2zM365 68h1v1h-1zM370 68h1v1h-1zM373 68h1v1h-1zM442 68h1v1h-1zM444 68h1v1h-1zM451 68h1v1h-1zM453 68h4v1h-4zM458 68h1v1h-1zM460 68h3v1h-3zM465 68h11v1h-11zM484 68h23v1h-23zM111 69h6v1h-6zM118 69h4v1h-4zM206 69h52v1h-52zM259 69h3v1h-3zM263 69h9v1h-9zM274 69h1v1h-1zM277 69h1v1h-1zM279 69h2v1h-2zM364 69h1v1h-1zM367 69h2v1h-2zM373 69h1v1h-1zM443 69h1v1h-1zM445 69h1v1h-1zM448 69h3v1h-3zM452 69h5v1h-5zM458 69h2v1h-2zM461 69h1v1h-1zM463 69h2v1h-2zM466 69h1v1h-1zM469 69h3v1h-3zM473 69h1v1h-1zM478 69h1v1h-1zM481 69h1v1h-1zM483 69h3v1h-3zM487 69h18v1h-18zM506 69h1v1h-1zM111 70h11v1h-11zM206 70h3v1h-3zM210 70h52v1h-52zM263 70h6v1h-6zM270 70h1v1h-1zM272 70h5v1h-5zM279 70h1v1h-1zM281 70h1v1h-1zM446 70h1v1h-1zM448 70h1v1h-1zM453 70h2v1h-2zM457 70h7v1h-7zM466 70h1v1h-1zM472 70h2v1h-2zM475 70h2v1h-2zM478 70h11v1h-11zM490 70h12v1h-12zM503 70h2v1h-2zM111 71h11v1h-11zM206 71h6v1h-6zM213 71h28v1h-28zM242 71h4v1h-4zM247 71h25v1h-25zM273 71h2v1h-2zM277 71h2v1h-2zM280 71h3v1h-3zM444 71h1v1h-1zM446 71h3v1h-3zM450 71h1v1h-1zM452 71h2v1h-2zM456 71h1v1h-1zM459 71h1v1h-1zM461 71h10v1h-10zM472 71h2v1h-2zM475 71h2v1h-2zM478 71h3v1h-3zM483 71h12v1h-12zM496 71h6v1h-6zM503 71h3v1h-3zM111 72h11v1h-11zM207 72h16v1h-16zM224 72h45v1h-45zM270 72h3v1h-3zM274 72h4v1h-4zM280 72h1v1h-1zM282 72h1v1h-1zM445 72h4v1h-4zM450 72h3v1h-3zM455 72h2v1h-2zM458 72h1v1h-1zM462 72h4v1h-4zM468 72h2v1h-2zM472 72h2v1h-2zM476 72h3v1h-3zM481 72h2v1h-2zM485 72h20v1h-20zM111 73h11v1h-11zM206 73h12v1h-12zM219 73h17v1h-17zM237 73h8v1h-8zM246 73h12v1h-12zM259 73h2v1h-2zM262 73h10v1h-10zM273 73h1v1h-1zM275 73h4v1h-4zM281 73h1v1h-1zM444 73h1v1h-1zM447 73h2v1h-2zM452 73h1v1h-1zM455 73h1v1h-1zM457 73h4v1h-4zM462 73h2v1h-2zM465 73h5v1h-5zM471 73h1v1h-1zM473 73h1v1h-1zM476 73h1v1h-1zM481 73h1v1h-1zM484 73h22v1h-22zM111 74h7v1h-7zM119 74h3v1h-3zM206 74h35v1h-35zM242 74h22v1h-22zM265 74h8v1h-8zM275 74h1v1h-1zM278 74h2v1h-2zM281 74h2v1h-2zM111 75h4v1h-4zM116 75h6v1h-6zM206 75h21v1h-21zM228 75h43v1h-43zM272 75h3v1h-3zM276 75h1v1h-1zM279 75h1v1h-1zM281 75h1v1h-1zM111 76h1v1h-1zM113 76h9v1h-9zM462 104h1v1h-1zM467 104h1v1h-1zM468 105h1v1h-1zM453 106h1v1h-1zM453 107h1v1h-1zM466 107h1v1h-1zM453 108h1v1h-1zM453 109h1v1h-1zM479 109h1v1h-1zM453 110h1v1h-1zM479 110h1v1h-1zM484 110h1v1h-1zM456 111h1v1h-1zM461 111h2v1h-2zM476 111h1v1h-1zM478 111h1v1h-1zM456 112h1v1h-1zM462 112h2v1h-2zM477 112h1v1h-1zM459 113h1v1h-1zM461 113h4v1h-4zM479 113h2v1h-2zM461 114h3v1h-3zM492 114h1v1h-1zM496 114h1v1h-1zM452 115h1v1h-1zM457 115h1v1h-1zM459 115h1v1h-1zM461 115h1v1h-1zM467 115h1v1h-1zM456 116h1v1h-1zM460 117h1v1h-1zM457 118h1v1h-1zM462 118h1v1h-1zM464 118h2v1h-2zM481 118h1v1h-1zM464 119h1v1h-1zM468 119h1v1h-1zM453 120h1v1h-1zM456 120h1v1h-1zM458 120h1v1h-1zM464 120h1v1h-1zM487 120h1v1h-1zM457 121h1v1h-1zM463 121h1v1h-1zM483 121h1v1h-1zM206 122h1v1h-1zM209 122h1v1h-1zM213 122h1v1h-1zM452 122h1v1h-1zM465 122h1v1h-1zM484 122h1v1h-1zM210 123h1v1h-1zM220 123h1v1h-1zM222 123h1v1h-1zM225 123h1v1h-1zM458 123h1v1h-1zM467 123h1v1h-1zM487 123h1v1h-1zM489 123h1v1h-1zM117 124h1v1h-1zM119 124h1v1h-1zM206 124h3v1h-3zM211 124h3v1h-3zM215 124h2v1h-2zM223 124h1v1h-1zM249 124h1v1h-1zM454 124h1v1h-1zM480 124h1v1h-1zM211 125h1v1h-1zM215 125h2v1h-2zM222 125h2v1h-2zM226 125h1v1h-1zM242 125h1v1h-1zM457 125h2v1h-2zM499 125h1v1h-1zM207 126h3v1h-3zM211 126h1v1h-1zM215 126h1v1h-1zM218 126h1v1h-1zM223 126h1v1h-1zM227 126h1v1h-1zM229 126h2v1h-2zM238 126h1v1h-1zM243 126h2v1h-2zM246 126h1v1h-1zM259 126h1v1h-1zM261 126h1v1h-1zM453 126h1v1h-1zM468 126h1v1h-1zM483 126h1v1h-1zM489 126h1v1h-1zM491 126h1v1h-1zM493 126h1v1h-1zM496 126h6v1h-6zM207 127h3v1h-3zM212 127h1v1h-1zM214 127h1v1h-1zM216 127h2v1h-2zM220 127h1v1h-1zM222 127h1v1h-1zM224 127h1v1h-1zM226 127h3v1h-3zM231 127h1v1h-1zM247 127h2v1h-2zM251 127h1v1h-1zM272 127h1v1h-1zM452 127h1v1h-1zM462 127h1v1h-1zM464 127h3v1h-3zM489 127h11v1h-11zM501 127h3v1h-3zM115 128h1v1h-1zM206 128h4v1h-4zM212 128h4v1h-4zM217 128h6v1h-6zM224 128h1v1h-1zM228 128h1v1h-1zM231 128h1v1h-1zM243 128h1v1h-1zM246 128h1v1h-1zM248 128h1v1h-1zM263 128h1v1h-1zM273 128h1v1h-1zM483 128h1v1h-1zM486 128h18v1h-18zM206 129h26v1h-26zM235 129h1v1h-1zM238 129h3v1h-3zM246 129h1v1h-1zM250 129h3v1h-3zM255 129h1v1h-1zM260 129h1v1h-1zM271 129h1v1h-1zM486 129h18v1h-18zM117 130h1v1h-1zM206 130h28v1h-28zM238 130h1v1h-1zM240 130h2v1h-2zM244 130h3v1h-3zM250 130h2v1h-2zM269 130h1v1h-1zM271 130h1v1h-1zM278 130h1v1h-1zM282 130h1v1h-1zM459 130h1v1h-1zM463 130h6v1h-6zM470 130h1v1h-1zM486 130h18v1h-18zM206 131h22v1h-22zM229 131h9v1h-9zM240 131h3v1h-3zM244 131h3v1h-3zM248 131h1v1h-1zM250 131h1v1h-1zM253 131h1v1h-1zM260 131h1v1h-1zM265 131h1v1h-1zM270 131h1v1h-1zM275 131h1v1h-1zM277 131h1v1h-1zM279 131h1v1h-1zM444 131h1v1h-1zM451 131h6v1h-6zM458 131h2v1h-2zM462 131h3v1h-3zM466 131h4v1h-4zM472 131h1v1h-1zM474 131h2v1h-2zM479 131h3v1h-3zM484 131h2v1h-2zM487 131h3v1h-3zM491 131h13v1h-13zM206 132h2v1h-2zM209 132h16v1h-16zM226 132h9v1h-9zM237 132h1v1h-1zM239 132h8v1h-8zM248 132h1v1h-1zM250 132h1v1h-1zM255 132h3v1h-3zM259 132h1v1h-1zM262 132h3v1h-3zM268 132h1v1h-1zM445 132h1v1h-1zM452 132h1v1h-1zM454 132h4v1h-4zM459 132h7v1h-7zM467 132h1v1h-1zM469 132h20v1h-20zM490 132h13v1h-13zM504 132h1v1h-1zM116 133h1v1h-1zM118 133h1v1h-1zM206 133h28v1h-28zM237 133h2v1h-2zM241 133h1v1h-1zM243 133h2v1h-2zM246 133h5v1h-5zM254 133h2v1h-2zM258 133h2v1h-2zM261 133h4v1h-4zM267 133h1v1h-1zM270 133h1v1h-1zM272 133h2v1h-2zM275 133h1v1h-1zM282 133h1v1h-1zM444 133h1v1h-1zM446 133h1v1h-1zM448 133h5v1h-5zM455 133h50v1h-50zM117 134h3v1h-3zM206 134h2v1h-2zM209 134h26v1h-26zM237 134h2v1h-2zM240 134h2v1h-2zM243 134h1v1h-1zM245 134h1v1h-1zM249 134h1v1h-1zM253 134h1v1h-1zM255 134h1v1h-1zM257 134h1v1h-1zM259 134h2v1h-2zM262 134h1v1h-1zM267 134h1v1h-1zM270 134h2v1h-2zM273 134h1v1h-1zM276 134h1v1h-1zM278 134h5v1h-5zM445 134h2v1h-2zM452 134h17v1h-17zM470 134h4v1h-4zM475 134h3v1h-3zM479 134h3v1h-3zM483 134h15v1h-15zM499 134h5v1h-5zM116 135h5v1h-5zM206 135h35v1h-35zM242 135h1v1h-1zM244 135h5v1h-5zM250 135h2v1h-2zM255 135h3v1h-3zM259 135h6v1h-6zM266 135h3v1h-3zM270 135h2v1h-2zM273 135h5v1h-5zM282 135h1v1h-1zM371 135h2v1h-2zM380 135h1v1h-1zM443 135h1v1h-1zM447 135h2v1h-2zM450 135h3v1h-3zM455 135h21v1h-21zM477 135h1v1h-1zM479 135h1v1h-1zM481 135h24v1h-24zM115 136h4v1h-4zM206 136h9v1h-9zM216 136h1v1h-1zM218 136h22v1h-22zM241 136h2v1h-2zM245 136h2v1h-2zM248 136h2v1h-2zM252 136h9v1h-9zM262 136h5v1h-5zM268 136h7v1h-7zM276 136h4v1h-4zM281 136h2v1h-2zM368 136h1v1h-1zM375 136h1v1h-1zM377 136h1v1h-1zM444 136h1v1h-1zM447 136h1v1h-1zM450 136h1v1h-1zM454 136h5v1h-5zM460 136h3v1h-3zM464 136h2v1h-2zM467 136h5v1h-5zM473 136h5v1h-5zM479 136h2v1h-2zM482 136h22v1h-22zM115 137h7v1h-7zM206 137h23v1h-23zM230 137h9v1h-9zM240 137h1v1h-1zM242 137h6v1h-6zM251 137h24v1h-24zM276 137h2v1h-2zM279 137h4v1h-4zM370 137h2v1h-2zM374 137h3v1h-3zM378 137h1v1h-1zM383 137h1v1h-1zM446 137h2v1h-2zM451 137h1v1h-1zM454 137h3v1h-3zM458 137h2v1h-2zM461 137h11v1h-11zM473 137h13v1h-13zM487 137h4v1h-4zM492 137h12v1h-12zM114 138h9v1h-9zM206 138h18v1h-18zM225 138h9v1h-9zM236 138h1v1h-1zM238 138h5v1h-5zM245 138h3v1h-3zM249 138h10v1h-10zM260 138h4v1h-4zM265 138h5v1h-5zM271 138h2v1h-2zM275 138h2v1h-2zM280 138h3v1h-3zM369 138h10v1h-10zM444 138h1v1h-1zM449 138h2v1h-2zM452 138h1v1h-1zM455 138h2v1h-2zM458 138h1v1h-1zM460 138h5v1h-5zM466 138h3v1h-3zM470 138h33v1h-33zM113 139h10v1h-10zM206 139h18v1h-18zM225 139h8v1h-8zM237 139h1v1h-1zM240 139h2v1h-2zM243 139h1v1h-1zM246 139h12v1h-12zM259 139h1v1h-1zM261 139h1v1h-1zM263 139h5v1h-5zM270 139h6v1h-6zM277 139h1v1h-1zM280 139h3v1h-3zM367 139h7v1h-7zM375 139h5v1h-5zM383 139h1v1h-1zM444 139h1v1h-1zM446 139h1v1h-1zM449 139h1v1h-1zM453 139h4v1h-4zM458 139h2v1h-2zM461 139h10v1h-10zM472 139h5v1h-5zM478 139h23v1h-23zM502 139h1v1h-1zM113 140h10v1h-10zM206 140h23v1h-23zM230 140h3v1h-3zM234 140h1v1h-1zM237 140h5v1h-5zM243 140h1v1h-1zM247 140h1v1h-1zM249 140h19v1h-19zM269 140h6v1h-6zM276 140h4v1h-4zM281 140h2v1h-2zM363 140h12v1h-12zM376 140h4v1h-4zM382 140h1v1h-1zM443 140h1v1h-1zM446 140h1v1h-1zM448 140h1v1h-1zM453 140h1v1h-1zM455 140h3v1h-3zM459 140h4v1h-4zM464 140h1v1h-1zM466 140h7v1h-7zM474 140h12v1h-12zM487 140h18v1h-18zM113 141h10v1h-10zM206 141h28v1h-28zM236 141h1v1h-1zM238 141h1v1h-1zM241 141h2v1h-2zM244 141h1v1h-1zM246 141h2v1h-2zM250 141h16v1h-16zM267 141h12v1h-12zM280 141h3v1h-3zM362 141h1v1h-1zM365 141h5v1h-5zM371 141h9v1h-9zM382 141h1v1h-1zM444 141h3v1h-3zM453 141h1v1h-1zM455 141h14v1h-14zM470 141h5v1h-5zM476 141h28v1h-28zM113 142h10v1h-10zM206 142h26v1h-26zM233 142h3v1h-3zM237 142h1v1h-1zM241 142h2v1h-2zM244 142h2v1h-2zM247 142h1v1h-1zM249 142h14v1h-14zM264 142h5v1h-5zM270 142h7v1h-7zM279 142h1v1h-1zM281 142h1v1h-1zM364 142h2v1h-2zM367 142h11v1h-11zM379 142h1v1h-1zM442 142h1v1h-1zM453 142h2v1h-2zM457 142h1v1h-1zM459 142h1v1h-1zM468 142h1v1h-1zM472 142h1v1h-1zM474 142h1v1h-1zM477 142h1v1h-1zM480 142h1v1h-1zM483 142h20v1h-20zM113 143h10v1h-10zM206 143h28v1h-28zM235 143h1v1h-1zM238 143h1v1h-1zM240 143h4v1h-4zM246 143h4v1h-4zM251 143h20v1h-20zM272 143h2v1h-2zM275 143h8v1h-8zM367 143h10v1h-10zM378 143h3v1h-3zM446 143h3v1h-3zM451 143h1v1h-1zM453 143h1v1h-1zM456 143h1v1h-1zM459 143h2v1h-2zM463 143h1v1h-1zM469 143h1v1h-1zM472 143h2v1h-2zM475 143h1v1h-1zM477 143h1v1h-1zM483 143h1v1h-1zM487 143h18v1h-18zM113 144h10v1h-10zM206 144h9v1h-9zM216 144h18v1h-18zM235 144h3v1h-3zM239 144h2v1h-2zM243 144h3v1h-3zM248 144h1v1h-1zM250 144h25v1h-25zM276 144h4v1h-4zM281 144h1v1h-1zM367 144h1v1h-1zM369 144h5v1h-5zM377 144h1v1h-1zM445 144h1v1h-1zM449 144h1v1h-1zM451 144h5v1h-5zM461 144h1v1h-1zM464 144h1v1h-1zM466 144h2v1h-2zM470 144h1v1h-1zM473 144h1v1h-1zM475 144h2v1h-2zM479 144h1v1h-1zM481 144h1v1h-1zM486 144h4v1h-4zM491 144h12v1h-12zM113 145h10v1h-10zM206 145h28v1h-28zM235 145h1v1h-1zM239 145h3v1h-3zM243 145h1v1h-1zM245 145h15v1h-15zM261 145h1v1h-1zM263 145h6v1h-6zM270 145h5v1h-5zM276 145h2v1h-2zM279 145h4v1h-4zM364 145h1v1h-1zM443 145h4v1h-4zM448 145h1v1h-1zM451 145h1v1h-1zM456 145h1v1h-1zM469 145h1v1h-1zM474 145h2v1h-2zM477 145h1v1h-1zM481 145h1v1h-1zM486 145h6v1h-6zM493 145h11v1h-11zM113 146h5v1h-5zM119 146h3v1h-3zM206 146h25v1h-25zM233 146h1v1h-1zM236 146h3v1h-3zM240 146h1v1h-1zM243 146h2v1h-2zM246 146h1v1h-1zM248 146h5v1h-5zM254 146h5v1h-5zM260 146h16v1h-16zM277 146h1v1h-1zM280 146h3v1h-3zM368 146h1v1h-1zM373 146h1v1h-1zM444 146h1v1h-1zM451 146h3v1h-3zM457 146h1v1h-1zM463 146h1v1h-1zM465 146h1v1h-1zM467 146h2v1h-2zM470 146h1v1h-1zM473 146h2v1h-2zM477 146h2v1h-2zM481 146h1v1h-1zM484 146h1v1h-1zM486 146h13v1h-13zM500 146h3v1h-3zM113 147h10v1h-10zM206 147h12v1h-12zM219 147h8v1h-8zM228 147h5v1h-5zM234 147h1v1h-1zM238 147h2v1h-2zM241 147h2v1h-2zM244 147h3v1h-3zM248 147h17v1h-17zM267 147h11v1h-11zM279 147h4v1h-4zM444 147h1v1h-1zM446 147h1v1h-1zM448 147h2v1h-2zM454 147h1v1h-1zM460 147h1v1h-1zM463 147h1v1h-1zM466 147h2v1h-2zM469 147h1v1h-1zM474 147h4v1h-4zM481 147h2v1h-2zM484 147h1v1h-1zM486 147h18v1h-18zM113 148h10v1h-10zM206 148h31v1h-31zM240 148h1v1h-1zM243 148h11v1h-11zM255 148h25v1h-25zM281 148h1v1h-1zM113 149h10v1h-10zM206 149h21v1h-21zM228 149h5v1h-5zM234 149h5v1h-5zM240 149h1v1h-1zM243 149h6v1h-6zM250 149h13v1h-13zM264 149h19v1h-19zM113 150h7v1h-7zM121 150h2v1h-2zM206 150h7v1h-7zM214 150h16v1h-16zM231 150h6v1h-6zM240 150h4v1h-4zM245 150h4v1h-4zM250 150h9v1h-9zM260 150h11v1h-11zM272 150h8v1h-8zM281 150h2v1h-2zM113 151h10v1h-10zM206 151h26v1h-26zM233 151h1v1h-1zM235 151h1v1h-1zM237 151h3v1h-3zM242 151h1v1h-1zM244 151h1v1h-1zM246 151h1v1h-1zM250 151h7v1h-7zM258 151h5v1h-5zM264 151h11v1h-11zM276 151h3v1h-3zM280 151h3v1h-3zM481 181h1v1h-1zM483 181h2v1h-2zM486 181h1v1h-1zM489 181h1v1h-1zM495 181h1v1h-1zM480 182h1v1h-1zM463 183h1v1h-1zM466 183h1v1h-1zM471 183h1v1h-1zM479 183h1v1h-1zM486 183h1v1h-1zM473 184h1v1h-1zM481 184h1v1h-1zM490 184h2v1h-2zM494 184h1v1h-1zM467 185h1v1h-1zM469 185h2v1h-2zM475 185h1v1h-1zM490 185h1v1h-1zM476 186h1v1h-1zM479 186h1v1h-1zM484 186h2v1h-2zM488 186h1v1h-1zM490 186h1v1h-1zM493 186h1v1h-1zM495 186h1v1h-1zM473 187h1v1h-1zM477 187h7v1h-7zM485 187h5v1h-5zM474 188h2v1h-2zM477 188h13v1h-13zM491 188h1v1h-1zM470 189h1v1h-1zM472 189h20v1h-20zM493 189h1v1h-1zM451 190h1v1h-1zM459 190h1v1h-1zM471 190h23v1h-23zM498 190h1v1h-1zM450 191h1v1h-1zM454 191h1v1h-1zM471 191h24v1h-24zM444 192h1v1h-1zM447 192h1v1h-1zM449 192h2v1h-2zM452 192h4v1h-4zM461 192h2v1h-2zM470 192h26v1h-26zM115 193h1v1h-1zM448 193h1v1h-1zM450 193h3v1h-3zM455 193h7v1h-7zM463 193h1v1h-1zM470 193h25v1h-25zM450 194h4v1h-4zM455 194h1v1h-1zM457 194h1v1h-1zM459 194h1v1h-1zM461 194h1v1h-1zM464 194h2v1h-2zM467 194h29v1h-29zM118 195h1v1h-1zM447 195h1v1h-1zM449 195h1v1h-1zM453 195h2v1h-2zM456 195h2v1h-2zM459 195h1v1h-1zM461 195h1v1h-1zM463 195h1v1h-1zM465 195h3v1h-3zM469 195h12v1h-12zM482 195h14v1h-14zM444 196h3v1h-3zM450 196h1v1h-1zM453 196h1v1h-1zM457 196h1v1h-1zM460 196h5v1h-5zM466 196h1v1h-1zM469 196h6v1h-6zM476 196h19v1h-19zM120 197h1v1h-1zM445 197h1v1h-1zM448 197h2v1h-2zM451 197h1v1h-1zM453 197h1v1h-1zM457 197h1v1h-1zM459 197h1v1h-1zM462 197h5v1h-5zM468 197h28v1h-28zM497 197h1v1h-1zM443 198h1v1h-1zM446 198h1v1h-1zM448 198h1v1h-1zM450 198h2v1h-2zM456 198h2v1h-2zM459 198h1v1h-1zM461 198h1v1h-1zM463 198h1v1h-1zM466 198h30v1h-30zM444 199h3v1h-3zM450 199h3v1h-3zM456 199h3v1h-3zM462 199h1v1h-1zM464 199h2v1h-2zM469 199h28v1h-28zM444 200h1v1h-1zM447 200h1v1h-1zM449 200h1v1h-1zM453 200h2v1h-2zM457 200h1v1h-1zM459 200h5v1h-5zM465 200h1v1h-1zM468 200h28v1h-28zM443 201h4v1h-4zM448 201h3v1h-3zM453 201h1v1h-1zM455 201h2v1h-2zM459 201h1v1h-1zM461 201h3v1h-3zM466 201h1v1h-1zM469 201h28v1h-28zM445 202h1v1h-1zM447 202h6v1h-6zM454 202h1v1h-1zM456 202h1v1h-1zM459 202h2v1h-2zM462 202h1v1h-1zM465 202h1v1h-1zM468 202h23v1h-23zM492 202h4v1h-4zM443 203h3v1h-3zM447 203h1v1h-1zM449 203h1v1h-1zM451 203h1v1h-1zM453 203h2v1h-2zM456 203h3v1h-3zM460 203h1v1h-1zM462 203h4v1h-4zM467 203h30v1h-30zM216 204h1v1h-1zM231 204h1v1h-1zM443 204h1v1h-1zM445 204h3v1h-3zM449 204h6v1h-6zM457 204h1v1h-1zM460 204h2v1h-2zM463 204h3v1h-3zM467 204h1v1h-1zM469 204h28v1h-28zM207 205h1v1h-1zM212 205h2v1h-2zM219 205h3v1h-3zM443 205h2v1h-2zM446 205h1v1h-1zM448 205h11v1h-11zM460 205h6v1h-6zM468 205h19v1h-19zM488 205h1v1h-1zM490 205h7v1h-7zM118 206h1v1h-1zM231 206h1v1h-1zM236 206h1v1h-1zM442 206h2v1h-2zM446 206h12v1h-12zM460 206h3v1h-3zM464 206h1v1h-1zM466 206h1v1h-1zM469 206h27v1h-27zM214 207h3v1h-3zM220 207h1v1h-1zM226 207h1v1h-1zM443 207h1v1h-1zM446 207h5v1h-5zM452 207h8v1h-8zM461 207h1v1h-1zM463 207h1v1h-1zM465 207h2v1h-2zM468 207h28v1h-28zM206 208h1v1h-1zM208 208h1v1h-1zM212 208h1v1h-1zM215 208h1v1h-1zM217 208h1v1h-1zM219 208h2v1h-2zM223 208h3v1h-3zM229 208h3v1h-3zM265 208h1v1h-1zM443 208h1v1h-1zM446 208h9v1h-9zM456 208h4v1h-4zM461 208h1v1h-1zM463 208h4v1h-4zM469 208h14v1h-14zM484 208h13v1h-13zM208 209h1v1h-1zM214 209h1v1h-1zM218 209h1v1h-1zM222 209h1v1h-1zM224 209h2v1h-2zM229 209h1v1h-1zM248 209h1v1h-1zM252 209h1v1h-1zM254 209h2v1h-2zM272 209h1v1h-1zM274 209h1v1h-1zM443 209h12v1h-12zM456 209h3v1h-3zM460 209h1v1h-1zM462 209h1v1h-1zM464 209h3v1h-3zM468 209h19v1h-19zM488 209h8v1h-8zM207 210h6v1h-6zM214 210h2v1h-2zM220 210h2v1h-2zM224 210h2v1h-2zM227 210h1v1h-1zM231 210h1v1h-1zM248 210h1v1h-1zM252 210h1v1h-1zM256 210h1v1h-1zM259 210h1v1h-1zM264 210h1v1h-1zM266 210h2v1h-2zM269 210h4v1h-4zM444 210h1v1h-1zM446 210h13v1h-13zM460 210h3v1h-3zM464 210h1v1h-1zM468 210h2v1h-2zM471 210h12v1h-12zM485 210h12v1h-12zM206 211h1v1h-1zM208 211h1v1h-1zM210 211h9v1h-9zM220 211h2v1h-2zM223 211h2v1h-2zM226 211h2v1h-2zM229 211h1v1h-1zM231 211h1v1h-1zM234 211h1v1h-1zM237 211h1v1h-1zM244 211h5v1h-5zM252 211h1v1h-1zM255 211h1v1h-1zM257 211h1v1h-1zM260 211h1v1h-1zM269 211h3v1h-3zM442 211h2v1h-2zM445 211h1v1h-1zM447 211h1v1h-1zM449 211h9v1h-9zM459 211h2v1h-2zM464 211h2v1h-2zM469 211h27v1h-27zM115 212h1v1h-1zM206 212h11v1h-11zM219 212h2v1h-2zM223 212h3v1h-3zM227 212h8v1h-8zM236 212h4v1h-4zM242 212h2v1h-2zM246 212h1v1h-1zM250 212h1v1h-1zM254 212h1v1h-1zM256 212h1v1h-1zM261 212h2v1h-2zM266 212h2v1h-2zM269 212h1v1h-1zM271 212h1v1h-1zM273 212h1v1h-1zM276 212h2v1h-2zM442 212h1v1h-1zM445 212h21v1h-21zM467 212h1v1h-1zM469 212h28v1h-28zM498 212h1v1h-1zM116 213h1v1h-1zM119 213h1v1h-1zM206 213h10v1h-10zM217 213h13v1h-13zM233 213h1v1h-1zM235 213h4v1h-4zM240 213h2v1h-2zM243 213h1v1h-1zM246 213h1v1h-1zM253 213h1v1h-1zM255 213h2v1h-2zM260 213h1v1h-1zM263 213h1v1h-1zM265 213h1v1h-1zM268 213h1v1h-1zM270 213h2v1h-2zM274 213h2v1h-2zM279 213h2v1h-2zM282 213h1v1h-1zM370 213h1v1h-1zM377 213h2v1h-2zM444 213h17v1h-17zM462 213h1v1h-1zM466 213h1v1h-1zM469 213h3v1h-3zM473 213h12v1h-12zM486 213h11v1h-11zM117 214h1v1h-1zM206 214h27v1h-27zM234 214h1v1h-1zM236 214h1v1h-1zM238 214h4v1h-4zM243 214h2v1h-2zM247 214h2v1h-2zM250 214h3v1h-3zM254 214h8v1h-8zM266 214h1v1h-1zM271 214h1v1h-1zM274 214h1v1h-1zM277 214h5v1h-5zM369 214h1v1h-1zM378 214h1v1h-1zM443 214h1v1h-1zM446 214h6v1h-6zM453 214h5v1h-5zM459 214h2v1h-2zM463 214h2v1h-2zM469 214h29v1h-29zM115 215h5v1h-5zM206 215h9v1h-9zM216 215h7v1h-7zM224 215h8v1h-8zM233 215h7v1h-7zM241 215h7v1h-7zM249 215h3v1h-3zM253 215h1v1h-1zM255 215h1v1h-1zM258 215h5v1h-5zM264 215h1v1h-1zM266 215h2v1h-2zM271 215h2v1h-2zM274 215h1v1h-1zM277 215h1v1h-1zM279 215h2v1h-2zM282 215h1v1h-1zM374 215h3v1h-3zM442 215h1v1h-1zM444 215h1v1h-1zM447 215h11v1h-11zM459 215h2v1h-2zM462 215h2v1h-2zM465 215h1v1h-1zM467 215h1v1h-1zM469 215h7v1h-7zM477 215h21v1h-21zM114 216h7v1h-7zM206 216h16v1h-16zM223 216h8v1h-8zM232 216h7v1h-7zM240 216h9v1h-9zM250 216h12v1h-12zM263 216h1v1h-1zM265 216h4v1h-4zM270 216h8v1h-8zM280 216h3v1h-3zM368 216h8v1h-8zM377 216h2v1h-2zM443 216h1v1h-1zM448 216h10v1h-10zM459 216h2v1h-2zM464 216h1v1h-1zM466 216h1v1h-1zM469 216h4v1h-4zM474 216h23v1h-23zM114 217h5v1h-5zM120 217h1v1h-1zM206 217h4v1h-4zM211 217h32v1h-32zM244 217h6v1h-6zM251 217h9v1h-9zM261 217h1v1h-1zM263 217h8v1h-8zM272 217h1v1h-1zM274 217h2v1h-2zM277 217h3v1h-3zM281 217h1v1h-1zM367 217h12v1h-12zM380 217h1v1h-1zM382 217h1v1h-1zM442 217h2v1h-2zM446 217h1v1h-1zM448 217h2v1h-2zM451 217h8v1h-8zM460 217h1v1h-1zM464 217h1v1h-1zM467 217h5v1h-5zM473 217h24v1h-24zM113 218h2v1h-2zM116 218h6v1h-6zM206 218h9v1h-9zM216 218h14v1h-14zM231 218h35v1h-35zM267 218h16v1h-16zM364 218h1v1h-1zM366 218h2v1h-2zM369 218h9v1h-9zM447 218h7v1h-7zM455 218h9v1h-9zM465 218h1v1h-1zM469 218h27v1h-27zM113 219h9v1h-9zM206 219h2v1h-2zM209 219h1v1h-1zM211 219h13v1h-13zM225 219h6v1h-6zM232 219h3v1h-3zM236 219h6v1h-6zM243 219h6v1h-6zM250 219h1v1h-1zM253 219h4v1h-4zM258 219h3v1h-3zM262 219h3v1h-3zM266 219h7v1h-7zM274 219h2v1h-2zM277 219h2v1h-2zM281 219h2v1h-2zM365 219h5v1h-5zM371 219h4v1h-4zM376 219h2v1h-2zM379 219h1v1h-1zM442 219h1v1h-1zM444 219h1v1h-1zM446 219h7v1h-7zM454 219h2v1h-2zM459 219h1v1h-1zM461 219h1v1h-1zM464 219h1v1h-1zM467 219h11v1h-11zM479 219h18v1h-18zM112 220h11v1h-11zM206 220h6v1h-6zM213 220h19v1h-19zM234 220h4v1h-4zM239 220h13v1h-13zM253 220h4v1h-4zM259 220h4v1h-4zM264 220h1v1h-1zM267 220h5v1h-5zM273 220h3v1h-3zM277 220h1v1h-1zM362 220h1v1h-1zM364 220h9v1h-9zM374 220h5v1h-5zM442 220h7v1h-7zM450 220h1v1h-1zM452 220h1v1h-1zM455 220h1v1h-1zM458 220h1v1h-1zM463 220h1v1h-1zM465 220h31v1h-31zM112 221h3v1h-3zM116 221h7v1h-7zM206 221h27v1h-27zM234 221h1v1h-1zM236 221h6v1h-6zM243 221h3v1h-3zM247 221h5v1h-5zM253 221h7v1h-7zM261 221h6v1h-6zM268 221h2v1h-2zM271 221h7v1h-7zM279 221h3v1h-3zM361 221h1v1h-1zM364 221h13v1h-13zM442 221h1v1h-1zM444 221h1v1h-1zM449 221h5v1h-5zM455 221h1v1h-1zM457 221h1v1h-1zM459 221h2v1h-2zM463 221h4v1h-4zM469 221h14v1h-14zM484 221h15v1h-15zM111 222h12v1h-12zM206 222h22v1h-22zM229 222h19v1h-19zM249 222h21v1h-21zM271 222h3v1h-3zM275 222h1v1h-1zM277 222h1v1h-1zM279 222h1v1h-1zM282 222h1v1h-1zM360 222h1v1h-1zM362 222h1v1h-1zM365 222h13v1h-13zM444 222h1v1h-1zM447 222h2v1h-2zM450 222h6v1h-6zM457 222h4v1h-4zM462 222h3v1h-3zM466 222h1v1h-1zM468 222h11v1h-11zM480 222h16v1h-16zM111 223h12v1h-12zM206 223h4v1h-4zM211 223h9v1h-9zM221 223h2v1h-2zM224 223h8v1h-8zM233 223h9v1h-9zM243 223h8v1h-8zM252 223h1v1h-1zM254 223h10v1h-10zM265 223h7v1h-7zM273 223h1v1h-1zM275 223h3v1h-3zM280 223h1v1h-1zM282 223h1v1h-1zM360 223h1v1h-1zM362 223h1v1h-1zM364 223h1v1h-1zM366 223h4v1h-4zM371 223h5v1h-5zM445 223h2v1h-2zM448 223h2v1h-2zM451 223h2v1h-2zM455 223h2v1h-2zM459 223h1v1h-1zM461 223h5v1h-5zM467 223h32v1h-32zM111 224h12v1h-12zM206 224h5v1h-5zM212 224h11v1h-11zM224 224h8v1h-8zM233 224h15v1h-15zM250 224h14v1h-14zM266 224h1v1h-1zM269 224h2v1h-2zM272 224h2v1h-2zM277 224h3v1h-3zM282 224h1v1h-1zM366 224h1v1h-1zM370 224h3v1h-3zM377 224h1v1h-1zM442 224h3v1h-3zM449 224h1v1h-1zM451 224h1v1h-1zM453 224h3v1h-3zM457 224h3v1h-3zM462 224h1v1h-1zM465 224h1v1h-1zM467 224h24v1h-24zM492 224h5v1h-5zM111 225h10v1h-10zM122 225h1v1h-1zM206 225h42v1h-42zM249 225h3v1h-3zM253 225h5v1h-5zM259 225h7v1h-7zM267 225h7v1h-7zM275 225h6v1h-6zM282 225h1v1h-1zM372 225h1v1h-1zM111 226h2v1h-2zM114 226h9v1h-9zM206 226h17v1h-17zM224 226h7v1h-7zM232 226h14v1h-14zM247 226h2v1h-2zM250 226h16v1h-16zM269 226h2v1h-2zM272 226h1v1h-1zM276 226h7v1h-7zM365 226h2v1h-2zM111 227h1v1h-1zM114 227h9v1h-9zM206 227h26v1h-26zM233 227h34v1h-34zM268 227h1v1h-1zM270 227h6v1h-6zM279 227h2v1h-2zM282 227h1v1h-1zM111 228h12v1h-12zM206 228h4v1h-4zM211 228h18v1h-18zM230 228h33v1h-33zM264 228h1v1h-1zM266 228h1v1h-1zM268 228h3v1h-3zM272 228h9v1h-9zM282 228h1v1h-1zM111 229h12v1h-12zM206 229h31v1h-31zM238 229h6v1h-6zM245 229h18v1h-18zM264 229h6v1h-6zM272 229h1v1h-1zM274 229h4v1h-4zM279 229h2v1h-2zM111 230h6v1h-6zM118 230h5v1h-5zM111 231h12v1h-12zM120 259h1v1h-1zM124 259h2v1h-2zM470 260h1v1h-1zM474 260h1v1h-1zM486 260h1v1h-1zM123 261h1v1h-1zM467 261h1v1h-1zM480 261h1v1h-1zM482 261h1v1h-1zM490 261h1v1h-1zM473 263h1v1h-1zM479 263h1v1h-1zM477 264h1v1h-1zM488 264h1v1h-1zM479 265h2v1h-2zM116 266h1v1h-1zM476 266h1v1h-1zM482 266h1v1h-1zM480 267h3v1h-3zM487 267h1v1h-1zM489 267h2v1h-2zM497 267h1v1h-1zM474 268h2v1h-2zM480 268h4v1h-4zM486 268h1v1h-1zM491 268h1v1h-1zM120 269h1v1h-1zM475 269h1v1h-1zM477 269h13v1h-13zM492 269h1v1h-1zM473 270h18v1h-18zM116 271h1v1h-1zM474 271h20v1h-20zM495 271h1v1h-1zM120 272h1v1h-1zM470 272h1v1h-1zM472 272h11v1h-11zM484 272h6v1h-6zM491 272h2v1h-2zM471 273h8v1h-8zM480 273h13v1h-13zM471 274h22v1h-22zM449 275h1v1h-1zM456 275h1v1h-1zM458 275h1v1h-1zM470 275h10v1h-10zM481 275h13v1h-13zM122 276h2v1h-2zM456 276h2v1h-2zM459 276h2v1h-2zM465 276h1v1h-1zM470 276h17v1h-17zM488 276h7v1h-7zM496 276h1v1h-1zM447 277h2v1h-2zM451 277h2v1h-2zM454 277h3v1h-3zM458 277h7v1h-7zM466 277h1v1h-1zM470 277h16v1h-16zM487 277h7v1h-7zM496 277h1v1h-1zM122 278h1v1h-1zM124 278h1v1h-1zM446 278h1v1h-1zM448 278h3v1h-3zM452 278h3v1h-3zM456 278h2v1h-2zM463 278h1v1h-1zM467 278h1v1h-1zM470 278h24v1h-24zM496 278h1v1h-1zM114 279h1v1h-1zM211 279h1v1h-1zM448 279h1v1h-1zM450 279h3v1h-3zM454 279h1v1h-1zM456 279h1v1h-1zM458 279h2v1h-2zM463 279h1v1h-1zM465 279h2v1h-2zM470 279h17v1h-17zM488 279h7v1h-7zM221 280h1v1h-1zM223 280h1v1h-1zM445 280h1v1h-1zM449 280h1v1h-1zM452 280h1v1h-1zM454 280h2v1h-2zM459 280h3v1h-3zM467 280h2v1h-2zM471 280h23v1h-23zM212 281h1v1h-1zM222 281h1v1h-1zM230 281h1v1h-1zM446 281h2v1h-2zM450 281h2v1h-2zM455 281h3v1h-3zM460 281h3v1h-3zM465 281h1v1h-1zM467 281h1v1h-1zM470 281h16v1h-16zM487 281h7v1h-7zM121 282h1v1h-1zM212 282h1v1h-1zM215 282h1v1h-1zM227 282h1v1h-1zM239 282h1v1h-1zM243 282h1v1h-1zM255 282h1v1h-1zM258 282h1v1h-1zM445 282h1v1h-1zM448 282h1v1h-1zM450 282h8v1h-8zM461 282h1v1h-1zM463 282h1v1h-1zM466 282h1v1h-1zM469 282h1v1h-1zM471 282h24v1h-24zM121 283h1v1h-1zM206 283h1v1h-1zM211 283h1v1h-1zM213 283h1v1h-1zM215 283h2v1h-2zM227 283h1v1h-1zM231 283h2v1h-2zM234 283h1v1h-1zM238 283h1v1h-1zM243 283h1v1h-1zM251 283h1v1h-1zM445 283h1v1h-1zM448 283h1v1h-1zM450 283h1v1h-1zM452 283h1v1h-1zM454 283h8v1h-8zM464 283h2v1h-2zM467 283h1v1h-1zM471 283h14v1h-14zM486 283h8v1h-8zM117 284h1v1h-1zM119 284h1v1h-1zM208 284h1v1h-1zM211 284h1v1h-1zM213 284h4v1h-4zM220 284h1v1h-1zM222 284h2v1h-2zM226 284h1v1h-1zM235 284h2v1h-2zM239 284h1v1h-1zM241 284h1v1h-1zM249 284h1v1h-1zM256 284h1v1h-1zM259 284h2v1h-2zM442 284h3v1h-3zM448 284h2v1h-2zM451 284h9v1h-9zM463 284h3v1h-3zM468 284h27v1h-27zM207 285h1v1h-1zM214 285h1v1h-1zM216 285h2v1h-2zM219 285h2v1h-2zM223 285h4v1h-4zM232 285h3v1h-3zM245 285h1v1h-1zM248 285h2v1h-2zM251 285h3v1h-3zM258 285h1v1h-1zM443 285h6v1h-6zM451 285h7v1h-7zM459 285h3v1h-3zM463 285h1v1h-1zM466 285h4v1h-4zM471 285h24v1h-24zM115 286h1v1h-1zM120 286h1v1h-1zM122 286h1v1h-1zM124 286h1v1h-1zM208 286h3v1h-3zM214 286h1v1h-1zM216 286h2v1h-2zM220 286h1v1h-1zM222 286h2v1h-2zM225 286h1v1h-1zM228 286h2v1h-2zM234 286h1v1h-1zM237 286h1v1h-1zM240 286h2v1h-2zM243 286h1v1h-1zM245 286h1v1h-1zM247 286h2v1h-2zM256 286h2v1h-2zM263 286h1v1h-1zM442 286h1v1h-1zM444 286h3v1h-3zM448 286h5v1h-5zM454 286h7v1h-7zM462 286h2v1h-2zM467 286h23v1h-23zM491 286h4v1h-4zM206 287h1v1h-1zM210 287h2v1h-2zM213 287h2v1h-2zM218 287h3v1h-3zM222 287h1v1h-1zM224 287h1v1h-1zM226 287h2v1h-2zM229 287h4v1h-4zM237 287h3v1h-3zM241 287h4v1h-4zM250 287h1v1h-1zM255 287h2v1h-2zM268 287h1v1h-1zM277 287h1v1h-1zM446 287h2v1h-2zM449 287h6v1h-6zM456 287h6v1h-6zM463 287h3v1h-3zM467 287h1v1h-1zM470 287h24v1h-24zM206 288h17v1h-17zM226 288h1v1h-1zM228 288h8v1h-8zM238 288h2v1h-2zM241 288h1v1h-1zM244 288h1v1h-1zM247 288h1v1h-1zM250 288h3v1h-3zM257 288h3v1h-3zM261 288h1v1h-1zM264 288h1v1h-1zM267 288h1v1h-1zM272 288h1v1h-1zM444 288h13v1h-13zM458 288h7v1h-7zM466 288h1v1h-1zM469 288h1v1h-1zM471 288h23v1h-23zM117 289h1v1h-1zM119 289h2v1h-2zM123 289h2v1h-2zM206 289h1v1h-1zM208 289h3v1h-3zM212 289h15v1h-15zM228 289h6v1h-6zM235 289h2v1h-2zM243 289h1v1h-1zM247 289h8v1h-8zM256 289h1v1h-1zM260 289h2v1h-2zM268 289h1v1h-1zM271 289h1v1h-1zM277 289h2v1h-2zM281 289h1v1h-1zM443 289h4v1h-4zM448 289h1v1h-1zM450 289h14v1h-14zM465 289h1v1h-1zM468 289h28v1h-28zM206 290h20v1h-20zM227 290h9v1h-9zM237 290h1v1h-1zM239 290h2v1h-2zM242 290h2v1h-2zM246 290h2v1h-2zM252 290h1v1h-1zM254 290h2v1h-2zM257 290h1v1h-1zM259 290h2v1h-2zM265 290h1v1h-1zM269 290h2v1h-2zM272 290h1v1h-1zM280 290h2v1h-2zM443 290h4v1h-4zM448 290h11v1h-11zM460 290h3v1h-3zM464 290h1v1h-1zM468 290h1v1h-1zM470 290h24v1h-24zM117 291h1v1h-1zM206 291h31v1h-31zM239 291h7v1h-7zM247 291h1v1h-1zM249 291h2v1h-2zM252 291h1v1h-1zM254 291h3v1h-3zM258 291h1v1h-1zM260 291h1v1h-1zM262 291h1v1h-1zM265 291h3v1h-3zM269 291h1v1h-1zM272 291h1v1h-1zM276 291h1v1h-1zM279 291h1v1h-1zM443 291h4v1h-4zM448 291h9v1h-9zM458 291h5v1h-5zM464 291h1v1h-1zM467 291h1v1h-1zM469 291h1v1h-1zM471 291h24v1h-24zM116 292h1v1h-1zM120 292h1v1h-1zM122 292h1v1h-1zM206 292h52v1h-52zM259 292h1v1h-1zM261 292h1v1h-1zM263 292h1v1h-1zM265 292h1v1h-1zM267 292h1v1h-1zM281 292h1v1h-1zM442 292h1v1h-1zM444 292h2v1h-2zM449 292h11v1h-11zM461 292h4v1h-4zM466 292h1v1h-1zM468 292h2v1h-2zM471 292h24v1h-24zM496 292h1v1h-1zM117 293h2v1h-2zM122 293h1v1h-1zM206 293h27v1h-27zM234 293h33v1h-33zM273 293h4v1h-4zM279 293h2v1h-2zM282 293h1v1h-1zM443 293h1v1h-1zM445 293h2v1h-2zM448 293h1v1h-1zM450 293h11v1h-11zM462 293h3v1h-3zM467 293h14v1h-14zM482 293h12v1h-12zM497 293h1v1h-1zM120 294h1v1h-1zM206 294h12v1h-12zM219 294h15v1h-15zM235 294h30v1h-30zM266 294h1v1h-1zM268 294h2v1h-2zM273 294h2v1h-2zM278 294h2v1h-2zM282 294h1v1h-1zM371 294h1v1h-1zM378 294h1v1h-1zM444 294h1v1h-1zM446 294h1v1h-1zM448 294h2v1h-2zM451 294h10v1h-10zM462 294h4v1h-4zM470 294h25v1h-25zM118 295h2v1h-2zM121 295h1v1h-1zM206 295h71v1h-71zM278 295h3v1h-3zM375 295h1v1h-1zM444 295h3v1h-3zM449 295h11v1h-11zM463 295h1v1h-1zM468 295h3v1h-3zM472 295h3v1h-3zM476 295h5v1h-5zM482 295h14v1h-14zM116 296h6v1h-6zM206 296h23v1h-23zM230 296h36v1h-36zM267 296h16v1h-16zM375 296h1v1h-1zM378 296h2v1h-2zM445 296h1v1h-1zM447 296h2v1h-2zM450 296h1v1h-1zM453 296h5v1h-5zM459 296h4v1h-4zM465 296h1v1h-1zM467 296h1v1h-1zM469 296h17v1h-17zM487 296h6v1h-6zM494 296h1v1h-1zM115 297h3v1h-3zM119 297h2v1h-2zM122 297h2v1h-2zM206 297h23v1h-23zM231 297h27v1h-27zM259 297h22v1h-22zM282 297h1v1h-1zM362 297h1v1h-1zM367 297h1v1h-1zM369 297h3v1h-3zM373 297h4v1h-4zM380 297h1v1h-1zM444 297h2v1h-2zM447 297h17v1h-17zM466 297h1v1h-1zM468 297h1v1h-1zM470 297h20v1h-20zM491 297h3v1h-3zM114 298h11v1h-11zM206 298h36v1h-36zM243 298h31v1h-31zM275 298h8v1h-8zM367 298h5v1h-5zM373 298h2v1h-2zM376 298h4v1h-4zM382 298h2v1h-2zM443 298h1v1h-1zM445 298h1v1h-1zM447 298h10v1h-10zM459 298h1v1h-1zM462 298h1v1h-1zM464 298h1v1h-1zM467 298h6v1h-6zM474 298h13v1h-13zM488 298h7v1h-7zM113 299h13v1h-13zM206 299h20v1h-20zM227 299h48v1h-48zM276 299h4v1h-4zM281 299h2v1h-2zM364 299h9v1h-9zM374 299h6v1h-6zM444 299h5v1h-5zM450 299h3v1h-3zM454 299h5v1h-5zM461 299h2v1h-2zM464 299h1v1h-1zM469 299h16v1h-16zM486 299h9v1h-9zM113 300h3v1h-3zM117 300h9v1h-9zM206 300h23v1h-23zM230 300h18v1h-18zM249 300h23v1h-23zM273 300h3v1h-3zM278 300h2v1h-2zM365 300h9v1h-9zM375 300h3v1h-3zM382 300h1v1h-1zM443 300h1v1h-1zM445 300h1v1h-1zM448 300h1v1h-1zM450 300h2v1h-2zM454 300h3v1h-3zM460 300h5v1h-5zM469 300h20v1h-20zM490 300h4v1h-4zM113 301h13v1h-13zM206 301h34v1h-34zM241 301h10v1h-10zM252 301h18v1h-18zM271 301h2v1h-2zM274 301h3v1h-3zM278 301h5v1h-5zM360 301h1v1h-1zM364 301h8v1h-8zM373 301h7v1h-7zM381 301h1v1h-1zM385 301h1v1h-1zM442 301h1v1h-1zM447 301h3v1h-3zM454 301h2v1h-2zM457 301h2v1h-2zM460 301h2v1h-2zM463 301h1v1h-1zM465 301h3v1h-3zM471 301h24v1h-24zM113 302h13v1h-13zM206 302h5v1h-5zM212 302h21v1h-21zM235 302h32v1h-32zM268 302h4v1h-4zM273 302h4v1h-4zM278 302h5v1h-5zM358 302h1v1h-1zM361 302h1v1h-1zM364 302h6v1h-6zM371 302h8v1h-8zM445 302h1v1h-1zM449 302h1v1h-1zM453 302h1v1h-1zM456 302h1v1h-1zM458 302h4v1h-4zM463 302h2v1h-2zM469 302h25v1h-25zM113 303h13v1h-13zM206 303h10v1h-10zM217 303h13v1h-13zM231 303h36v1h-36zM268 303h12v1h-12zM281 303h2v1h-2zM363 303h2v1h-2zM367 303h6v1h-6zM374 303h4v1h-4zM442 303h2v1h-2zM445 303h2v1h-2zM448 303h4v1h-4zM454 303h1v1h-1zM457 303h1v1h-1zM463 303h1v1h-1zM467 303h1v1h-1zM469 303h7v1h-7zM477 303h18v1h-18zM113 304h13v1h-13zM206 304h13v1h-13zM220 304h7v1h-7zM228 304h1v1h-1zM230 304h18v1h-18zM249 304h32v1h-32zM369 304h3v1h-3zM375 304h1v1h-1zM444 304h5v1h-5zM450 304h1v1h-1zM452 304h1v1h-1zM456 304h3v1h-3zM461 304h1v1h-1zM464 304h3v1h-3zM470 304h1v1h-1zM472 304h23v1h-23zM113 305h13v1h-13zM206 305h15v1h-15zM222 305h11v1h-11zM234 305h12v1h-12zM247 305h11v1h-11zM259 305h7v1h-7zM267 305h14v1h-14zM282 305h1v1h-1zM362 305h1v1h-1zM367 305h2v1h-2zM379 305h1v1h-1zM445 305h2v1h-2zM448 305h3v1h-3zM455 305h3v1h-3zM459 305h1v1h-1zM462 305h2v1h-2zM467 305h1v1h-1zM469 305h9v1h-9zM479 305h15v1h-15zM113 306h13v1h-13zM206 306h8v1h-8zM215 306h34v1h-34zM250 306h28v1h-28zM279 306h2v1h-2zM375 306h1v1h-1zM113 307h7v1h-7zM121 307h5v1h-5zM206 307h31v1h-31zM238 307h19v1h-19zM258 307h21v1h-21zM280 307h2v1h-2zM369 307h1v1h-1zM114 308h12v1h-12zM206 308h17v1h-17zM224 308h15v1h-15zM240 308h7v1h-7zM248 308h3v1h-3zM252 308h28v1h-28zM113 309h11v1h-11zM125 309h1v1h-1zM206 309h30v1h-30zM237 309h22v1h-22zM260 309h3v1h-3zM265 309h3v1h-3zM269 309h10v1h-10zM280 309h1v1h-1zM282 309h1v1h-1zM115 310h11v1h-11zM113 311h13v1h-13zM113 312h2v1h-2zM116 312h4v1h-4zM121 312h5v1h-5zM113 313h3v1h-3zM117 313h2v1h-2zM120 313h6v1h-6zM471 338h1v1h-1zM472 339h1v1h-1zM480 341h1v1h-1zM480 342h1v1h-1zM480 344h1v1h-1zM120 346h1v1h-1zM477 347h1v1h-1zM481 347h1v1h-1zM484 347h1v1h-1zM490 347h1v1h-1zM119 348h1v1h-1zM484 348h1v1h-1zM489 348h1v1h-1zM485 349h1v1h-1zM480 350h1v1h-1zM486 350h1v1h-1zM116 351h1v1h-1zM479 351h1v1h-1zM481 351h2v1h-2zM488 351h1v1h-1zM492 351h1v1h-1zM472 352h1v1h-1zM475 352h1v1h-1zM490 352h1v1h-1zM493 352h1v1h-1zM495 352h1v1h-1zM118 353h1v1h-1zM470 353h1v1h-1zM472 353h1v1h-1zM475 353h1v1h-1zM489 353h2v1h-2zM492 353h1v1h-1zM497 353h1v1h-1zM458 354h1v1h-1zM465 354h1v1h-1zM468 354h1v1h-1zM470 354h2v1h-2zM474 354h6v1h-6zM481 354h1v1h-1zM484 354h1v1h-1zM486 354h3v1h-3zM490 354h3v1h-3zM495 354h1v1h-1zM114 355h1v1h-1zM451 355h1v1h-1zM467 355h22v1h-22zM490 355h4v1h-4zM212 356h1v1h-1zM443 356h1v1h-1zM450 356h2v1h-2zM460 356h1v1h-1zM464 356h32v1h-32zM217 357h1v1h-1zM443 357h1v1h-1zM446 357h1v1h-1zM451 357h3v1h-3zM460 357h2v1h-2zM464 357h1v1h-1zM466 357h29v1h-29zM208 358h1v1h-1zM213 358h1v1h-1zM221 358h1v1h-1zM442 358h1v1h-1zM445 358h1v1h-1zM447 358h3v1h-3zM452 358h1v1h-1zM457 358h5v1h-5zM464 358h31v1h-31zM212 359h1v1h-1zM220 359h1v1h-1zM223 359h1v1h-1zM229 359h1v1h-1zM231 359h1v1h-1zM250 359h1v1h-1zM443 359h1v1h-1zM445 359h1v1h-1zM447 359h2v1h-2zM450 359h3v1h-3zM455 359h1v1h-1zM458 359h1v1h-1zM460 359h3v1h-3zM465 359h30v1h-30zM497 359h1v1h-1zM208 360h1v1h-1zM216 360h1v1h-1zM222 360h1v1h-1zM224 360h2v1h-2zM232 360h1v1h-1zM244 360h1v1h-1zM250 360h1v1h-1zM253 360h1v1h-1zM258 360h1v1h-1zM442 360h1v1h-1zM444 360h5v1h-5zM452 360h3v1h-3zM456 360h1v1h-1zM458 360h1v1h-1zM460 360h1v1h-1zM462 360h1v1h-1zM465 360h18v1h-18zM484 360h11v1h-11zM209 361h2v1h-2zM212 361h1v1h-1zM219 361h1v1h-1zM221 361h1v1h-1zM223 361h3v1h-3zM227 361h1v1h-1zM232 361h1v1h-1zM237 361h1v1h-1zM246 361h1v1h-1zM443 361h1v1h-1zM445 361h3v1h-3zM451 361h1v1h-1zM453 361h3v1h-3zM457 361h1v1h-1zM460 361h1v1h-1zM462 361h1v1h-1zM464 361h1v1h-1zM466 361h30v1h-30zM212 362h1v1h-1zM216 362h1v1h-1zM219 362h1v1h-1zM225 362h1v1h-1zM228 362h1v1h-1zM231 362h4v1h-4zM236 362h1v1h-1zM239 362h1v1h-1zM265 362h1v1h-1zM443 362h1v1h-1zM445 362h3v1h-3zM450 362h2v1h-2zM455 362h3v1h-3zM460 362h1v1h-1zM462 362h16v1h-16zM479 362h5v1h-5zM485 362h7v1h-7zM493 362h2v1h-2zM208 363h1v1h-1zM210 363h5v1h-5zM217 363h1v1h-1zM219 363h1v1h-1zM223 363h1v1h-1zM226 363h3v1h-3zM231 363h5v1h-5zM240 363h1v1h-1zM247 363h1v1h-1zM261 363h1v1h-1zM265 363h1v1h-1zM442 363h1v1h-1zM444 363h1v1h-1zM446 363h1v1h-1zM448 363h5v1h-5zM454 363h2v1h-2zM457 363h3v1h-3zM461 363h1v1h-1zM463 363h1v1h-1zM466 363h29v1h-29zM496 363h1v1h-1zM208 364h3v1h-3zM212 364h3v1h-3zM216 364h2v1h-2zM222 364h2v1h-2zM225 364h2v1h-2zM228 364h1v1h-1zM231 364h1v1h-1zM233 364h1v1h-1zM236 364h1v1h-1zM240 364h3v1h-3zM248 364h1v1h-1zM256 364h1v1h-1zM258 364h1v1h-1zM261 364h1v1h-1zM443 364h6v1h-6zM450 364h1v1h-1zM453 364h6v1h-6zM460 364h10v1h-10zM471 364h22v1h-22zM494 364h2v1h-2zM116 365h1v1h-1zM119 365h1v1h-1zM208 365h1v1h-1zM211 365h5v1h-5zM217 365h3v1h-3zM223 365h2v1h-2zM227 365h1v1h-1zM233 365h4v1h-4zM247 365h2v1h-2zM252 365h1v1h-1zM254 365h1v1h-1zM261 365h1v1h-1zM265 365h1v1h-1zM270 365h2v1h-2zM275 365h1v1h-1zM445 365h2v1h-2zM448 365h5v1h-5zM454 365h5v1h-5zM461 365h2v1h-2zM465 365h1v1h-1zM467 365h8v1h-8zM476 365h1v1h-1zM478 365h18v1h-18zM208 366h26v1h-26zM235 366h1v1h-1zM239 366h1v1h-1zM246 366h1v1h-1zM250 366h1v1h-1zM252 366h2v1h-2zM259 366h1v1h-1zM262 366h1v1h-1zM264 366h2v1h-2zM267 366h1v1h-1zM274 366h1v1h-1zM278 366h1v1h-1zM443 366h1v1h-1zM446 366h1v1h-1zM448 366h5v1h-5zM454 366h38v1h-38zM493 366h3v1h-3zM116 367h1v1h-1zM208 367h8v1h-8zM218 367h1v1h-1zM221 367h13v1h-13zM235 367h2v1h-2zM238 367h2v1h-2zM241 367h2v1h-2zM245 367h2v1h-2zM249 367h4v1h-4zM254 367h1v1h-1zM257 367h1v1h-1zM262 367h3v1h-3zM271 367h2v1h-2zM275 367h2v1h-2zM282 367h1v1h-1zM442 367h1v1h-1zM444 367h7v1h-7zM452 367h9v1h-9zM462 367h19v1h-19zM482 367h13v1h-13zM497 367h1v1h-1zM208 368h25v1h-25zM234 368h4v1h-4zM239 368h1v1h-1zM241 368h1v1h-1zM243 368h3v1h-3zM247 368h1v1h-1zM249 368h1v1h-1zM251 368h2v1h-2zM255 368h2v1h-2zM258 368h1v1h-1zM260 368h1v1h-1zM262 368h7v1h-7zM274 368h1v1h-1zM443 368h1v1h-1zM448 368h5v1h-5zM454 368h5v1h-5zM461 368h1v1h-1zM463 368h3v1h-3zM467 368h7v1h-7zM475 368h5v1h-5zM481 368h14v1h-14zM116 369h1v1h-1zM119 369h1v1h-1zM208 369h29v1h-29zM240 369h1v1h-1zM242 369h7v1h-7zM251 369h1v1h-1zM254 369h2v1h-2zM257 369h3v1h-3zM261 369h3v1h-3zM267 369h3v1h-3zM271 369h1v1h-1zM274 369h1v1h-1zM276 369h1v1h-1zM376 369h1v1h-1zM443 369h17v1h-17zM461 369h4v1h-4zM466 369h30v1h-30zM498 369h1v1h-1zM119 370h1v1h-1zM208 370h25v1h-25zM234 370h6v1h-6zM242 370h3v1h-3zM246 370h2v1h-2zM249 370h2v1h-2zM252 370h5v1h-5zM259 370h1v1h-1zM261 370h2v1h-2zM266 370h1v1h-1zM268 370h3v1h-3zM275 370h1v1h-1zM277 370h2v1h-2zM282 370h2v1h-2zM442 370h1v1h-1zM444 370h2v1h-2zM447 370h15v1h-15zM463 370h1v1h-1zM465 370h17v1h-17zM483 370h11v1h-11zM114 371h5v1h-5zM208 371h1v1h-1zM210 371h1v1h-1zM212 371h33v1h-33zM247 371h3v1h-3zM251 371h1v1h-1zM254 371h2v1h-2zM257 371h7v1h-7zM265 371h3v1h-3zM269 371h3v1h-3zM274 371h1v1h-1zM277 371h3v1h-3zM283 371h1v1h-1zM375 371h4v1h-4zM443 371h1v1h-1zM445 371h1v1h-1zM447 371h15v1h-15zM463 371h1v1h-1zM466 371h30v1h-30zM114 372h6v1h-6zM208 372h4v1h-4zM213 372h22v1h-22zM236 372h25v1h-25zM262 372h7v1h-7zM270 372h3v1h-3zM274 372h2v1h-2zM277 372h2v1h-2zM280 372h1v1h-1zM282 372h1v1h-1zM370 372h2v1h-2zM373 372h2v1h-2zM383 372h1v1h-1zM443 372h2v1h-2zM448 372h13v1h-13zM462 372h2v1h-2zM466 372h30v1h-30zM114 373h2v1h-2zM117 373h3v1h-3zM208 373h3v1h-3zM212 373h23v1h-23zM236 373h21v1h-21zM258 373h2v1h-2zM261 373h7v1h-7zM269 373h10v1h-10zM281 373h3v1h-3zM365 373h2v1h-2zM369 373h5v1h-5zM375 373h1v1h-1zM377 373h1v1h-1zM381 373h1v1h-1zM443 373h1v1h-1zM447 373h17v1h-17zM466 373h1v1h-1zM468 373h26v1h-26zM113 374h8v1h-8zM208 374h5v1h-5zM214 374h5v1h-5zM220 374h50v1h-50zM273 374h2v1h-2zM279 374h2v1h-2zM282 374h2v1h-2zM362 374h2v1h-2zM366 374h11v1h-11zM378 374h4v1h-4zM444 374h11v1h-11zM456 374h7v1h-7zM465 374h1v1h-1zM467 374h28v1h-28zM496 374h1v1h-1zM113 375h8v1h-8zM208 375h24v1h-24zM233 375h16v1h-16zM250 375h5v1h-5zM256 375h1v1h-1zM258 375h3v1h-3zM262 375h5v1h-5zM268 375h2v1h-2zM272 375h2v1h-2zM276 375h2v1h-2zM280 375h3v1h-3zM365 375h11v1h-11zM377 375h4v1h-4zM444 375h18v1h-18zM464 375h1v1h-1zM466 375h24v1h-24zM491 375h5v1h-5zM112 376h4v1h-4zM117 376h5v1h-5zM208 376h23v1h-23zM232 376h4v1h-4zM237 376h12v1h-12zM250 376h16v1h-16zM267 376h4v1h-4zM272 376h7v1h-7zM280 376h1v1h-1zM282 376h2v1h-2zM362 376h5v1h-5zM368 376h12v1h-12zM442 376h1v1h-1zM444 376h3v1h-3zM449 376h14v1h-14zM465 376h30v1h-30zM112 377h10v1h-10zM208 377h46v1h-46zM255 377h18v1h-18zM275 377h4v1h-4zM281 377h1v1h-1zM283 377h1v1h-1zM360 377h1v1h-1zM363 377h1v1h-1zM365 377h2v1h-2zM368 377h5v1h-5zM374 377h5v1h-5zM381 377h1v1h-1zM383 377h1v1h-1zM442 377h3v1h-3zM447 377h1v1h-1zM449 377h14v1h-14zM464 377h12v1h-12zM477 377h20v1h-20zM111 378h10v1h-10zM208 378h50v1h-50zM260 378h8v1h-8zM270 378h1v1h-1zM272 378h2v1h-2zM275 378h5v1h-5zM281 378h2v1h-2zM360 378h1v1h-1zM365 378h2v1h-2zM368 378h7v1h-7zM376 378h4v1h-4zM381 378h1v1h-1zM444 378h1v1h-1zM446 378h2v1h-2zM449 378h2v1h-2zM452 378h10v1h-10zM463 378h1v1h-1zM465 378h14v1h-14zM480 378h5v1h-5zM486 378h10v1h-10zM498 378h1v1h-1zM111 379h11v1h-11zM208 379h38v1h-38zM247 379h22v1h-22zM270 379h2v1h-2zM274 379h2v1h-2zM280 379h4v1h-4zM359 379h1v1h-1zM363 379h1v1h-1zM365 379h1v1h-1zM367 379h4v1h-4zM372 379h4v1h-4zM443 379h2v1h-2zM446 379h3v1h-3zM452 379h4v1h-4zM459 379h1v1h-1zM464 379h31v1h-31zM496 379h1v1h-1zM111 380h11v1h-11zM208 380h64v1h-64zM273 380h7v1h-7zM366 380h2v1h-2zM369 380h1v1h-1zM371 380h2v1h-2zM375 380h1v1h-1zM379 380h1v1h-1zM443 380h3v1h-3zM450 380h2v1h-2zM453 380h2v1h-2zM456 380h2v1h-2zM461 380h2v1h-2zM465 380h29v1h-29zM495 380h1v1h-1zM497 380h1v1h-1zM111 381h11v1h-11zM208 381h20v1h-20zM229 381h23v1h-23zM253 381h16v1h-16zM271 381h4v1h-4zM277 381h1v1h-1zM279 381h1v1h-1zM281 381h3v1h-3zM367 381h1v1h-1zM370 381h1v1h-1zM375 381h1v1h-1zM442 381h1v1h-1zM445 381h4v1h-4zM450 381h1v1h-1zM457 381h2v1h-2zM460 381h1v1h-1zM463 381h1v1h-1zM465 381h24v1h-24zM490 381h8v1h-8zM111 382h11v1h-11zM208 382h51v1h-51zM260 382h5v1h-5zM266 382h3v1h-3zM271 382h5v1h-5zM277 382h3v1h-3zM281 382h1v1h-1zM283 382h1v1h-1zM363 382h1v1h-1zM366 382h1v1h-1zM369 382h1v1h-1zM371 382h2v1h-2zM375 382h1v1h-1zM378 382h1v1h-1zM444 382h1v1h-1zM446 382h3v1h-3zM450 382h1v1h-1zM453 382h2v1h-2zM456 382h1v1h-1zM459 382h1v1h-1zM462 382h2v1h-2zM465 382h11v1h-11zM477 382h18v1h-18zM496 382h1v1h-1zM111 383h11v1h-11zM208 383h25v1h-25zM234 383h13v1h-13zM248 383h19v1h-19zM268 383h1v1h-1zM270 383h2v1h-2zM274 383h5v1h-5zM280 383h1v1h-1zM282 383h1v1h-1zM372 383h1v1h-1zM442 383h1v1h-1zM444 383h2v1h-2zM447 383h1v1h-1zM449 383h2v1h-2zM452 383h3v1h-3zM458 383h1v1h-1zM460 383h1v1h-1zM462 383h1v1h-1zM464 383h32v1h-32zM111 384h11v1h-11zM208 384h6v1h-6zM215 384h28v1h-28zM244 384h23v1h-23zM268 384h1v1h-1zM270 384h12v1h-12zM445 384h1v1h-1zM447 384h1v1h-1zM449 384h1v1h-1zM452 384h1v1h-1zM456 384h2v1h-2zM460 384h3v1h-3zM465 384h23v1h-23zM489 384h2v1h-2zM492 384h3v1h-3zM111 385h11v1h-11zM208 385h52v1h-52zM262 385h8v1h-8zM271 385h1v1h-1zM273 385h1v1h-1zM276 385h1v1h-1zM280 385h1v1h-1zM111 386h11v1h-11zM208 386h65v1h-65zM277 386h3v1h-3zM281 386h3v1h-3zM111 387h11v1h-11z" fill="#000"/><path d="" fill="#333"/><rect x="415.7" y="79" width="8" height="9" fill="#fff"/>
</g>
</svg></body></html>
